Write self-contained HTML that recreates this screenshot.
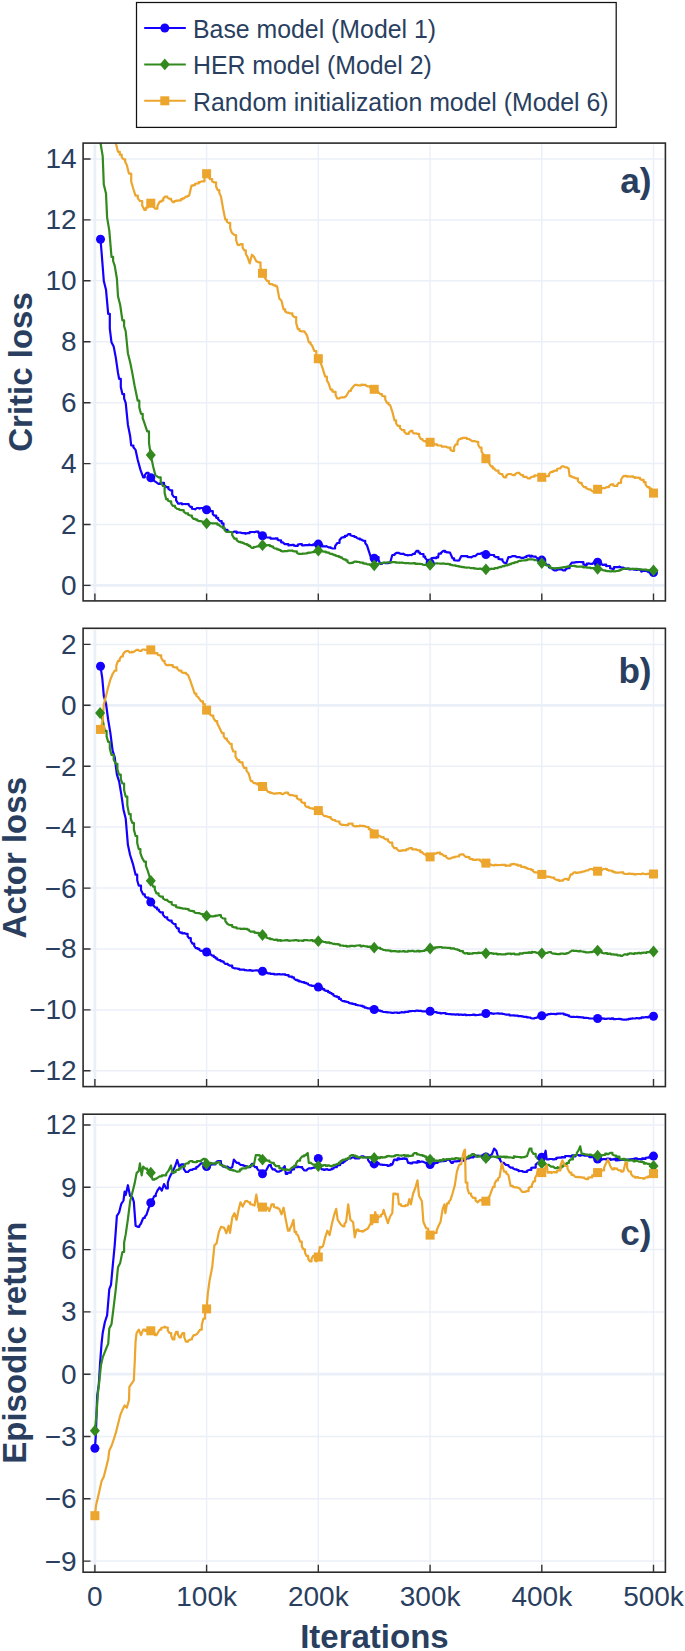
<!DOCTYPE html><html><head><meta charset="utf-8"><style>html,body{margin:0;padding:0;background:#fff;overflow:hidden;width:685px;height:1651px;}svg{display:block;}text{font-family:"Liberation Sans",sans-serif;}</style></head><body>
<svg width="685" height="1651" viewBox="0 0 685 1651">
<rect x="0" y="0" width="685" height="1651" fill="#fff"/>
<defs>
<clipPath id="c0"><rect x="83.1" y="143.1" width="582.3" height="457.8"/></clipPath>
<clipPath id="c1"><rect x="83.1" y="628.3" width="582.3" height="458.3"/></clipPath>
<clipPath id="c2"><rect x="83.1" y="1114.2" width="582.3" height="458.0"/></clipPath>
</defs>
<path d="M206.6 144.6V600.1M318.3 144.6V600.1M430.1 144.6V600.1M541.8 144.6V600.1M653.5 144.6V600.1M83.9 524.5H664.6M83.9 463.6H664.6M83.9 402.7H664.6M83.9 341.7H664.6M83.9 280.8H664.6M83.9 219.9H664.6M83.9 159.0H664.6" stroke="#ebf0f8" stroke-width="1.5" fill="none"/>
<path d="M94.9 144.6V600.1M83.9 585.4H664.6" stroke="#ebf0f8" stroke-width="2.8" fill="none"/>
<g clip-path="url(#c0)" fill="none" stroke-width="2.2" stroke-linejoin="round" stroke-linecap="round">
<polyline points="100.5,239.3 101.6,252.5 103.8,281.0 106.0,289.7 108.2,313.8 109.8,313.8 109.8,328.7 111.5,342.3 113.7,346.6 115.8,357.6 118.0,372.9 119.1,378.8 120.8,378.8 120.8,386.9 122.4,394.1 124.1,394.1 124.1,398.3 125.7,402.8 127.9,424.7 130.1,435.7 131.2,445.5 133.4,445.5 133.4,447.3 135.6,449.9 137.7,459.8 140.4,469.6 143.2,477.3 144.8,477.3 144.8,475.1 146.5,472.9 148.6,472.9 148.6,475.1 150.8,477.7 153.0,477.7 153.0,480.2 155.3,481.7 158.5,483.9 160.2,483.9 160.2,483.0 161.8,482.8 164.0,482.8 164.0,484.9 166.2,487.1 168.4,487.1 168.4,488.9 170.6,490.4 172.2,490.4 172.2,494.4 173.9,497.0 176.1,497.0 176.1,500.3 178.2,503.6 180.0,503.6 180.0,503.3 181.9,503.3 181.9,504.3 183.7,504.0 185.3,504.0 185.3,504.2 187.0,504.0 188.7,504.0 188.7,505.0 190.3,506.9 191.9,506.9 191.9,508.7 193.6,509.0 195.2,509.0 195.2,509.4 196.9,508.0 199.1,508.0 199.1,508.6 201.2,508.0 203.0,508.0 203.0,509.3 204.8,509.3 204.8,508.8 206.6,509.7 208.9,509.7 208.9,510.9 211.1,511.2 212.8,511.2 212.8,514.1 214.4,515.6 216.2,515.6 216.2,517.8 218.1,517.8 218.1,519.2 219.9,521.1 221.7,521.1 221.7,523.3 223.5,523.3 223.5,526.8 225.3,529.8 227.5,529.8 227.5,531.1 229.7,532.0 232.1,532.0 232.1,532.5 234.4,531.6 236.6,531.6 236.6,532.9 238.8,532.5 240.9,532.5 240.9,532.8 243.1,533.1 245.3,533.1 245.3,533.8 247.5,533.1 249.7,533.1 249.7,532.1 251.9,532.0 254.1,532.0 254.1,532.3 256.3,531.6 258.4,531.6 258.4,533.1 260.4,533.1 260.4,533.5 262.5,535.8 264.8,535.8 264.8,537.0 267.2,537.5 268.9,537.5 268.9,537.6 270.5,537.6 270.5,538.6 272.1,538.6 272.1,538.6 273.8,538.6 275.6,538.6 275.6,538.3 277.5,538.3 277.5,539.8 279.3,540.4 281.1,540.4 281.1,542.3 282.9,542.3 282.9,542.4 284.7,544.1 286.5,544.1 286.5,544.2 288.4,544.2 288.4,545.5 290.2,545.2 292.0,545.2 292.0,544.8 293.9,544.8 293.9,545.7 295.7,545.8 297.9,545.8 297.9,544.5 300.1,544.1 301.9,544.1 301.9,545.3 303.7,545.3 303.7,545.4 305.5,545.2 307.3,545.2 307.3,545.1 309.2,545.1 309.2,544.4 311.0,545.2 313.2,545.2 313.2,544.3 315.4,544.1 318.3,544.1 320.3,544.1 320.3,544.8 322.2,544.8 322.2,546.3 324.2,546.3 326.4,546.3 326.4,546.1 328.5,547.4 330.7,547.4 330.7,548.0 332.9,548.5 335.1,548.5 335.1,546.1 337.3,543.0 339.5,543.0 339.5,540.3 341.7,537.5 343.3,537.5 343.3,537.2 344.9,537.2 344.9,535.9 346.6,535.9 346.6,535.9 348.2,534.2 350.4,534.2 350.4,535.3 352.6,536.0 354.4,536.0 354.4,537.0 356.3,537.0 356.3,537.6 358.1,538.6 359.9,538.6 359.9,539.5 361.8,539.5 361.8,539.9 363.6,540.8 365.2,540.8 365.2,543.1 366.9,545.2 369.0,551.7 371.2,558.3 374.2,558.3 377.0,557.2 378.6,557.2 378.6,560.1 380.3,563.8 382.1,563.8 382.1,563.0 384.0,563.0 384.0,562.8 385.8,563.1 388.0,563.1 388.0,563.1 390.1,562.7 392.3,555.0 394.5,555.0 394.5,554.2 396.7,552.8 398.9,552.8 398.9,553.3 401.1,553.9 403.3,553.9 403.3,553.7 405.5,555.0 407.6,555.0 407.6,555.5 409.8,555.0 411.5,555.0 411.5,555.1 413.1,553.9 414.9,553.9 414.9,553.1 416.7,550.8 418.4,550.8 418.4,552.5 420.0,552.5 420.0,553.7 421.7,554.0 423.5,554.0 423.5,556.7 425.2,556.7 425.2,558.0 427.0,559.9 430.1,563.0 431.6,558.1 433.2,558.1 433.2,557.8 434.9,557.8 434.9,558.2 436.5,558.2 436.5,557.2 438.1,557.5 438.7,553.7 441.0,553.7 441.0,552.8 443.3,550.8 445.0,550.8 445.0,551.9 446.6,551.9 446.6,552.4 448.3,552.4 448.3,552.3 450.0,552.6 452.5,558.3 454.1,558.3 454.1,560.2 455.8,560.5 457.5,560.5 457.5,560.6 459.1,560.5 461.3,556.1 463.5,556.1 463.5,556.0 465.7,556.1 467.4,556.1 467.4,556.9 469.0,557.2 471.1,557.2 471.1,557.5 473.3,556.1 475.5,556.1 475.5,555.8 477.7,553.9 479.9,553.9 479.9,553.9 482.1,552.8 484.0,552.8 484.0,552.9 485.9,554.6 487.9,554.6 487.9,554.9 490.0,554.9 490.0,554.8 492.0,555.0 494.1,555.0 494.1,556.3 496.3,557.2 498.5,557.2 498.5,558.9 500.7,559.4 502.4,559.4 502.4,560.6 504.0,562.7 506.2,563.3 508.4,557.2 510.6,557.2 510.6,557.1 512.8,556.1 515.0,556.1 515.0,556.0 517.1,557.2 519.3,557.2 519.3,557.0 521.5,557.9 523.1,557.9 523.1,558.1 524.8,557.2 526.4,557.2 526.4,556.1 528.0,555.7 529.8,555.7 529.8,556.6 531.7,556.6 531.7,555.6 533.5,556.6 535.7,556.6 535.7,557.0 537.9,558.7 539.8,558.7 539.8,559.8 541.8,560.1 543.4,560.1 543.4,560.9 545.1,560.9 545.1,563.4 546.7,564.9 548.9,564.9 548.9,567.3 551.0,568.2 552.6,568.2 552.6,569.4 554.3,570.4 556.5,570.4 556.5,570.2 558.7,569.3 560.9,569.3 560.9,569.0 563.1,570.4 565.3,570.4 565.3,569.5 567.5,568.2 569.6,568.2 569.6,565.6 571.8,562.7 574.0,562.7 574.0,562.6 576.2,562.2 578.0,562.2 578.0,562.0 579.9,562.0 579.9,562.0 581.7,562.2 583.4,562.2 583.4,564.4 585.0,564.9 586.8,564.9 586.8,563.7 588.6,563.7 588.6,563.3 590.4,563.8 592.6,563.8 592.6,563.5 594.8,561.6 597.6,562.2 599.3,562.2 599.3,562.5 600.9,562.5 600.9,563.3 602.5,564.9 604.3,564.9 604.3,564.7 606.2,564.7 606.2,566.2 608.0,566.0 610.1,566.0 610.1,568.2 612.3,568.8 614.0,568.8 614.0,567.1 615.6,567.1 617.4,567.1 617.4,567.1 619.3,567.1 619.3,566.6 621.1,567.5 623.3,567.5 623.3,567.7 625.5,568.8 627.2,568.8 627.2,568.5 629.0,568.5 629.0,569.4 630.7,569.4 630.7,569.1 632.5,569.1 632.5,568.9 634.2,569.7 636.0,569.7 636.0,570.0 637.7,570.0 637.7,569.4 639.5,569.4 639.5,569.8 641.2,569.8 641.2,571.6 643.0,571.0 644.8,571.0 644.8,570.7 646.5,570.7 646.5,571.2 648.2,571.2 648.2,572.2 650.0,572.2 650.0,572.6 651.8,572.6 651.8,573.0 653.5,572.5" stroke="#1400ff"/>
<polyline points="99.5,60.0 100.5,143.0 102.7,156.1 103.8,184.6 106.0,193.4 107.1,217.4 109.3,230.6 111.5,256.9 113.1,256.9 113.1,261.0 114.7,265.6 116.9,278.8 118.0,296.3 120.2,305.0 122.4,320.4 124.1,320.4 124.1,326.1 125.7,331.3 127.9,353.2 130.1,362.0 132.3,372.9 134.5,385.3 137.7,400.7 139.3,400.7 139.3,407.4 141.0,413.8 142.7,413.8 142.7,418.1 144.3,422.6 147.2,431.3 149.0,431.3 149.0,443.1 150.8,455.0 153.1,466.3 155.3,475.1 158.5,477.3 160.7,477.3 160.7,481.6 162.9,486.0 164.6,486.0 164.6,492.7 166.2,499.2 167.8,499.2 167.8,500.5 169.5,501.4 171.2,501.4 171.2,503.4 172.8,505.8 175.0,505.8 175.0,507.1 177.2,509.0 179.3,509.0 179.3,509.8 181.5,510.1 183.7,510.1 183.7,511.7 185.9,513.4 188.1,513.4 188.1,514.7 190.3,515.6 191.9,515.6 191.9,517.0 193.6,518.9 195.4,518.9 195.4,519.6 197.3,519.6 197.3,520.5 199.1,521.1 201.0,521.1 201.0,521.5 202.9,521.5 202.9,522.5 204.7,522.5 204.7,523.0 206.6,523.3 208.5,523.3 208.5,523.0 210.3,523.0 210.3,523.0 212.2,523.3 213.8,523.3 213.8,523.3 215.5,523.3 217.3,523.3 217.3,524.7 219.2,524.7 219.2,525.4 221.0,526.6 222.8,526.6 222.8,528.2 224.6,528.2 224.6,530.2 226.4,532.0 228.2,532.0 228.2,531.7 230.0,532.0 232.2,532.0 232.2,535.1 234.4,538.6 236.6,538.6 236.6,540.2 238.8,541.9 240.4,541.9 240.4,542.4 242.1,542.4 242.1,542.8 243.7,542.8 243.7,543.4 245.3,544.1 247.0,544.1 247.0,544.9 248.6,544.9 248.6,545.9 250.2,545.9 250.2,546.7 251.9,547.8 253.7,547.8 253.7,547.0 255.6,547.0 255.6,547.0 257.4,546.3 259.1,546.3 259.1,546.0 260.8,546.0 260.8,545.7 262.5,545.2 264.4,545.2 264.4,545.0 266.4,545.0 266.4,545.5 268.3,545.2 269.9,545.2 269.9,546.2 271.6,546.2 271.6,546.6 273.2,546.6 273.2,547.6 274.9,548.5 276.8,548.5 276.8,549.3 278.8,549.3 278.8,550.0 280.7,550.0 280.7,550.9 282.6,551.3 284.2,551.3 284.2,551.1 285.9,551.1 285.9,551.1 287.5,551.1 287.5,550.9 289.1,550.6 290.9,550.6 290.9,550.7 292.8,550.7 292.8,551.1 294.6,551.3 296.8,551.3 296.8,552.8 299.0,553.9 300.6,553.9 300.6,554.0 302.2,554.0 302.2,553.7 303.9,553.7 303.9,553.7 305.5,553.5 307.1,553.5 307.1,552.9 308.8,552.9 308.8,552.7 310.5,552.7 310.5,552.7 312.1,552.2 314.2,552.2 314.2,551.6 316.3,551.6 316.3,550.9 318.3,550.6 320.3,550.6 320.3,551.0 322.2,551.0 322.2,551.5 324.2,551.7 325.8,551.7 325.8,552.4 327.4,552.4 327.4,552.7 329.1,552.7 329.1,553.3 330.7,553.9 332.4,553.9 332.4,554.5 334.0,554.5 334.0,555.2 335.6,555.2 335.6,555.6 337.3,556.1 338.9,556.1 338.9,556.9 340.6,556.9 340.6,557.7 342.2,557.7 342.2,558.3 343.9,559.4 345.7,559.4 345.7,560.4 347.5,560.4 347.5,562.0 349.3,563.1 351.1,563.1 351.1,562.9 353.0,562.9 353.0,562.2 354.8,561.6 356.4,561.6 356.4,561.8 358.1,561.8 358.1,562.0 359.8,562.0 359.8,562.4 361.4,562.7 363.0,562.7 363.0,563.4 364.6,563.4 364.6,563.7 366.3,563.7 366.3,564.0 367.9,564.4 370.0,564.4 370.0,564.9 372.1,564.9 372.1,564.8 374.2,565.3 377.0,563.8 378.6,563.8 378.6,563.5 380.3,563.5 380.3,563.5 382.0,563.5 382.0,563.0 383.6,562.7 385.3,562.7 385.3,562.6 387.1,562.6 387.1,562.4 388.8,562.4 388.8,562.4 390.6,562.4 390.6,562.6 392.3,562.2 394.1,562.2 394.1,562.0 395.8,562.0 395.8,562.6 397.6,562.6 397.6,562.7 399.3,562.7 399.3,562.8 401.1,562.7 402.8,562.7 402.8,563.0 404.6,563.0 404.6,563.1 406.3,563.1 406.3,563.1 408.1,563.1 408.1,563.2 409.8,563.3 411.6,563.3 411.6,563.4 413.3,563.4 413.3,563.2 415.1,563.2 415.1,563.8 416.8,563.8 416.8,563.7 418.6,563.8 420.4,563.8 420.4,564.0 422.3,564.0 422.3,564.5 424.1,564.9 426.1,564.9 426.1,564.9 428.1,564.9 428.1,564.8 430.1,564.9 432.1,564.9 432.1,564.3 434.1,564.3 434.1,563.9 436.1,563.3 437.9,563.3 437.9,563.5 439.6,563.5 439.6,563.6 441.4,563.6 441.4,563.6 443.1,563.6 443.1,563.4 444.9,563.8 446.6,563.8 446.6,563.9 448.4,563.9 448.4,564.2 450.1,564.2 450.1,564.8 451.9,564.8 451.9,565.2 453.6,565.3 455.4,565.3 455.4,565.8 457.1,565.8 457.1,566.2 458.9,566.2 458.9,566.6 460.6,566.6 460.6,566.6 462.4,567.1 464.2,567.1 464.2,567.5 465.9,567.5 465.9,567.6 467.7,567.6 467.7,567.5 469.4,567.5 469.4,567.7 471.2,568.2 472.8,568.2 472.8,568.1 474.4,568.1 474.4,568.7 476.1,568.7 476.1,568.5 477.7,568.8 479.3,568.8 479.3,568.7 481.0,568.7 481.0,569.1 482.6,569.1 482.6,569.0 484.3,569.0 484.3,568.9 485.9,569.3 487.7,569.3 487.7,569.0 489.5,569.0 489.5,569.1 491.2,569.1 491.2,568.7 493.0,568.8 494.6,568.8 494.6,568.2 496.3,568.2 496.3,568.1 498.0,568.1 498.0,567.5 499.6,567.1 501.2,567.1 501.2,566.5 502.9,566.5 502.9,566.2 504.6,566.2 504.6,565.5 506.2,565.3 507.8,565.3 507.8,564.7 509.5,564.7 509.5,564.2 511.1,564.2 511.1,563.5 512.8,563.1 514.4,563.1 514.4,562.3 516.0,562.3 516.0,562.2 517.7,562.2 517.7,561.5 519.3,560.9 521.0,560.9 521.0,560.5 522.6,560.5 524.2,560.5 524.2,560.3 525.9,560.3 525.9,560.1 527.5,560.1 527.5,559.4 529.1,559.4 530.8,559.4 530.8,559.3 532.4,559.3 532.4,559.5 534.1,559.5 534.1,560.1 535.7,560.1 537.7,560.1 537.7,560.9 539.8,560.9 539.8,562.2 541.8,563.1 543.4,563.1 543.4,564.0 545.1,564.0 545.1,564.7 546.7,565.5 548.5,565.5 548.5,566.2 550.3,566.2 550.3,567.6 552.1,568.2 553.9,568.2 553.9,568.4 555.8,568.4 555.8,568.2 557.6,568.2 559.2,568.2 559.2,567.8 560.9,567.8 560.9,567.7 562.6,567.7 562.6,567.3 564.2,567.1 565.8,567.1 565.8,566.9 567.5,566.9 567.5,566.4 569.1,566.4 569.1,566.4 570.7,566.0 572.5,566.0 572.5,565.9 574.2,565.9 574.2,566.1 576.0,566.1 576.0,566.6 577.7,566.6 577.7,566.7 579.5,566.6 581.3,566.6 581.3,566.7 583.0,566.7 583.0,567.3 584.8,567.3 584.8,567.1 586.5,567.1 586.5,567.7 588.3,567.7 590.2,567.7 590.2,568.1 592.0,568.1 592.0,568.1 593.9,568.1 593.9,568.2 595.8,568.2 595.8,568.3 597.6,568.8 599.6,568.8 599.6,569.6 601.6,569.6 601.6,569.6 603.6,570.4 605.2,570.4 605.2,570.8 606.9,570.8 606.9,571.2 608.6,571.2 608.6,571.2 610.2,571.4 611.8,571.4 611.8,571.1 613.5,571.1 613.5,571.4 615.1,571.4 615.1,571.4 616.7,571.0 618.4,571.0 618.4,570.6 620.0,570.6 620.0,569.9 621.6,569.9 621.6,569.3 623.3,568.8 625.0,568.8 625.0,568.7 626.8,568.7 626.8,568.6 628.5,568.6 628.5,568.9 630.3,568.9 630.3,568.8 632.0,568.8 633.8,568.8 633.8,568.8 635.7,568.8 635.7,568.9 637.5,568.9 637.5,569.3 639.3,569.3 639.3,569.3 641.2,569.3 641.2,569.5 643.0,569.7 644.8,569.7 644.8,569.7 646.5,569.7 646.5,570.2 648.2,570.2 648.2,570.3 650.0,570.3 650.0,569.9 651.8,569.9 651.8,570.1 653.5,570.4" stroke="#32891e"/>
<polyline points="100.5,40.0 102.4,40.0 102.4,55.6 104.2,55.6 104.2,70.6 106.1,70.6 106.1,84.4 108.0,100.0 110.0,100.0 110.0,111.9 112.0,125.0 113.9,125.0 113.9,134.5 115.8,143.0 118.0,151.8 119.8,151.8 119.8,154.7 121.7,154.7 121.7,157.1 123.5,159.4 125.2,159.4 125.2,161.9 126.8,164.9 129.0,173.7 131.2,173.7 131.2,181.5 133.4,189.0 135.5,195.6 137.8,195.6 137.8,198.4 140.0,201.0 142.2,201.0 142.2,205.5 144.3,209.8 145.9,209.8 145.9,207.7 147.5,207.7 147.5,206.4 149.1,206.4 149.1,204.7 150.8,203.2 153.0,203.2 153.0,206.3 155.3,208.7 157.4,208.7 157.4,205.9 159.6,201.7 161.4,201.7 161.4,200.6 163.3,200.6 163.3,198.4 165.1,196.6 167.3,196.6 167.3,197.6 169.5,198.8 171.2,198.8 171.2,200.1 172.8,202.1 174.4,202.1 174.4,201.0 176.1,201.0 176.1,200.6 177.7,200.6 177.7,200.8 179.3,200.4 181.0,200.4 181.0,199.2 182.6,199.2 182.6,198.3 184.2,198.3 184.2,198.1 185.9,196.6 187.6,196.6 187.6,196.1 189.2,195.5 191.4,185.7 193.2,185.7 193.2,185.1 195.1,185.1 195.1,183.9 196.9,183.5 198.7,183.5 198.7,182.1 200.5,182.1 200.5,181.8 202.3,181.3 204.5,181.3 204.5,177.0 206.6,173.7 208.3,173.7 208.3,176.4 210.0,179.1 212.2,179.1 212.2,181.4 214.4,182.4 216.1,182.4 216.1,186.5 217.7,190.1 219.3,190.1 219.3,192.9 221.0,196.6 223.1,208.7 225.3,219.6 226.9,219.6 226.9,221.8 228.6,222.9 230.2,222.9 230.2,228.3 231.9,232.8 234.4,235.0 236.1,235.0 236.1,240.2 237.7,244.8 239.3,244.8 239.3,245.1 240.9,244.2 242.6,244.2 242.6,247.6 244.2,250.3 245.8,250.3 245.8,254.0 247.5,256.9 249.7,263.4 251.9,254.7 254.1,256.9 256.3,261.2 258.5,262.3 260.5,262.3 260.5,267.6 262.5,273.3 264.8,273.3 264.8,277.8 267.2,281.0 268.9,281.0 268.9,283.2 270.5,284.2 272.1,284.2 272.1,284.3 273.8,285.3 275.5,285.3 275.5,286.2 277.1,286.4 279.3,298.5 281.5,300.7 283.6,309.4 285.2,309.4 285.2,311.4 286.9,312.7 288.5,312.7 288.5,313.0 290.2,313.4 292.4,313.4 292.4,315.3 294.6,317.1 296.2,317.1 296.2,323.1 297.9,329.1 299.5,329.1 299.5,330.8 301.2,331.3 304.4,331.3 307.1,335.7 308.8,342.3 310.5,342.3 310.5,343.9 312.1,345.5 314.3,351.0 316.3,351.0 316.3,355.3 318.3,358.7 320.2,358.7 320.2,362.3 322.0,366.3 325.2,376.6 326.9,376.6 326.9,380.4 328.5,383.1 330.7,389.7 332.4,389.7 332.4,391.4 334.0,391.9 335.6,391.9 335.6,395.1 337.3,398.5 339.5,398.5 339.5,398.0 341.7,397.4 343.9,397.4 343.9,397.4 346.1,396.3 349.3,390.8 351.0,390.8 351.0,389.5 352.6,387.5 354.8,384.9 357.0,384.9 357.0,385.1 359.2,385.3 361.4,385.3 361.4,384.7 363.6,384.9 365.8,384.9 365.8,385.4 367.9,386.4 370.0,386.4 370.0,387.6 372.1,387.6 372.1,387.9 374.2,389.3 376.2,389.3 376.2,391.5 378.3,391.5 378.3,392.2 380.3,394.1 382.0,394.1 382.0,395.8 383.6,396.3 385.2,396.3 385.2,399.3 386.9,402.8 388.5,402.8 388.5,404.5 390.1,405.0 392.3,411.6 394.5,420.4 396.1,420.4 396.1,423.4 397.8,425.8 400.0,425.8 400.0,428.0 402.2,430.2 404.4,430.2 404.4,432.1 406.6,433.9 408.8,433.9 408.8,432.6 410.9,430.9 412.5,430.9 412.5,432.3 414.2,433.5 415.9,433.5 415.9,433.4 417.5,433.9 419.1,433.9 419.1,436.0 420.8,439.0 422.5,439.0 422.5,440.1 424.1,441.2 426.1,441.2 426.1,442.2 428.1,442.2 428.1,442.1 430.1,442.3 431.7,442.3 431.7,442.4 433.4,442.4 433.4,444.1 435.0,444.4 437.2,444.4 437.2,445.3 439.4,445.5 441.6,445.5 441.6,446.6 443.8,446.6 446.0,446.6 446.0,446.7 448.2,447.7 450.4,447.7 450.4,449.7 452.5,451.0 454.1,451.0 454.1,447.1 455.8,444.4 457.5,444.4 457.5,441.9 459.1,439.0 460.9,439.0 460.9,438.3 462.8,438.3 462.8,437.9 464.6,437.9 466.8,437.9 466.8,439.0 469.0,439.0 472.2,441.2 474.4,441.2 474.4,440.9 476.6,441.8 478.2,441.8 478.2,444.8 479.9,447.7 481.5,447.7 481.5,451.5 483.2,454.3 485.9,458.7 487.6,458.7 487.6,460.9 489.2,460.9 489.2,463.4 490.9,466.3 492.7,466.3 492.7,468.3 494.5,468.3 494.5,469.1 496.3,470.7 498.5,470.7 498.5,472.7 500.7,474.0 502.4,474.0 502.4,475.0 504.0,477.3 506.2,477.3 506.2,475.5 508.4,474.0 510.6,474.0 510.6,474.1 512.8,475.1 515.0,475.1 515.0,474.2 517.1,472.9 519.3,472.9 519.3,473.4 521.5,475.1 523.1,475.1 523.1,476.6 524.8,476.9 526.4,476.9 526.4,477.0 528.0,478.4 530.2,478.4 530.2,477.8 532.4,476.6 534.6,476.6 534.6,475.4 536.8,475.5 538.5,475.5 538.5,475.8 540.1,475.8 540.1,477.1 541.8,477.3 543.4,477.3 543.4,476.5 545.1,476.5 545.1,476.1 546.7,476.2 548.9,476.2 548.9,474.3 551.0,471.8 553.2,471.8 553.2,471.1 555.4,470.7 557.0,470.7 557.0,469.0 558.7,468.5 560.4,468.5 560.4,468.1 562.0,466.3 563.6,466.3 563.6,466.4 565.3,467.4 567.0,467.4 567.0,467.3 568.6,468.5 569.6,476.2 571.2,476.2 571.2,476.5 572.9,477.3 574.5,477.3 574.5,478.0 576.2,478.4 577.9,478.4 577.9,480.9 579.5,482.8 581.7,482.8 581.7,484.4 583.9,487.1 586.1,487.1 586.1,488.0 588.3,489.3 590.5,489.3 590.5,489.7 592.6,491.5 594.8,491.5 594.8,490.3 597.0,489.3 598.8,489.3 598.8,489.3 600.7,489.3 600.7,488.9 602.5,488.2 604.7,488.2 604.7,488.2 606.9,487.1 609.0,487.1 609.0,486.1 611.2,484.3 613.4,484.3 613.4,485.7 615.6,486.0 617.2,486.0 617.2,484.7 618.9,482.8 621.1,482.8 621.1,479.5 623.3,476.2 624.9,476.2 624.9,475.9 626.6,475.9 626.6,476.6 628.2,476.6 628.2,476.2 629.9,476.6 631.5,476.6 631.5,476.3 633.1,476.3 633.1,477.1 634.8,477.1 634.8,477.9 636.4,477.7 638.2,477.7 638.2,477.9 640.1,477.9 640.1,479.3 641.9,479.9 643.7,479.9 643.7,482.2 645.6,482.2 645.6,484.7 647.4,487.1 649.4,487.1 649.4,488.6 651.5,488.6 651.5,491.7 653.5,493.1" stroke="#eca52d"/>
</g>
<g clip-path="url(#c0)">
<circle cx="100.5" cy="239.3" r="4.5" fill="#1400ff"/>
<circle cx="150.8" cy="477.7" r="4.5" fill="#1400ff"/>
<circle cx="206.6" cy="509.7" r="4.5" fill="#1400ff"/>
<circle cx="262.5" cy="535.8" r="4.5" fill="#1400ff"/>
<circle cx="318.3" cy="544.1" r="4.5" fill="#1400ff"/>
<circle cx="374.2" cy="558.3" r="4.5" fill="#1400ff"/>
<circle cx="430.1" cy="563.0" r="4.5" fill="#1400ff"/>
<circle cx="485.9" cy="554.6" r="4.5" fill="#1400ff"/>
<circle cx="541.8" cy="560.1" r="4.5" fill="#1400ff"/>
<circle cx="597.6" cy="562.2" r="4.5" fill="#1400ff"/>
<circle cx="653.5" cy="572.5" r="4.5" fill="#1400ff"/>
<path d="M150.8 449.1L155.8 455.0L150.8 460.9L145.8 455.0Z" fill="#32891e"/>
<path d="M206.6 517.4L211.6 523.3L206.6 529.2L201.6 523.3Z" fill="#32891e"/>
<path d="M262.5 539.3L267.5 545.2L262.5 551.1L257.5 545.2Z" fill="#32891e"/>
<path d="M318.3 544.7L323.3 550.6L318.3 556.5L313.3 550.6Z" fill="#32891e"/>
<path d="M374.2 559.4L379.2 565.3L374.2 571.2L369.2 565.3Z" fill="#32891e"/>
<path d="M430.1 559.0L435.1 564.9L430.1 570.8L425.1 564.9Z" fill="#32891e"/>
<path d="M485.9 563.4L490.9 569.3L485.9 575.2L480.9 569.3Z" fill="#32891e"/>
<path d="M541.8 557.2L546.8 563.1L541.8 569.0L536.8 563.1Z" fill="#32891e"/>
<path d="M597.6 562.9L602.6 568.8L597.6 574.7L592.6 568.8Z" fill="#32891e"/>
<path d="M653.5 564.5L658.5 570.4L653.5 576.3L648.5 570.4Z" fill="#32891e"/>
<rect x="146.3" y="198.7" width="9" height="9" fill="#eca52d"/>
<rect x="202.1" y="169.2" width="9" height="9" fill="#eca52d"/>
<rect x="258.0" y="268.8" width="9" height="9" fill="#eca52d"/>
<rect x="313.8" y="354.2" width="9" height="9" fill="#eca52d"/>
<rect x="369.7" y="384.8" width="9" height="9" fill="#eca52d"/>
<rect x="425.6" y="437.8" width="9" height="9" fill="#eca52d"/>
<rect x="481.4" y="454.2" width="9" height="9" fill="#eca52d"/>
<rect x="537.3" y="472.8" width="9" height="9" fill="#eca52d"/>
<rect x="593.1" y="484.8" width="9" height="9" fill="#eca52d"/>
<rect x="649.0" y="488.6" width="9" height="9" fill="#eca52d"/>
</g>
<rect x="83.1" y="143.1" width="582.3" height="457.8" fill="none" stroke="#2b2b2b" stroke-width="1.6"/>
<path d="M83.1 585.4H90.5M83.1 524.5H90.5M83.1 463.6H90.5M83.1 402.7H90.5M83.1 341.7H90.5M83.1 280.8H90.5M83.1 219.9H90.5M83.1 159.0H90.5M94.9 600.9V593.4M206.6 600.9V593.4M318.3 600.9V593.4M430.1 600.9V593.4M541.8 600.9V593.4M653.5 600.9V593.4" stroke="#333" stroke-width="1.4" fill="none"/>
<text x="76.7" y="594.8" font-size="28" fill="#2a3f5f" text-anchor="end">0</text>
<text x="76.7" y="533.9" font-size="28" fill="#2a3f5f" text-anchor="end">2</text>
<text x="76.7" y="473.0" font-size="28" fill="#2a3f5f" text-anchor="end">4</text>
<text x="76.7" y="412.1" font-size="28" fill="#2a3f5f" text-anchor="end">6</text>
<text x="76.7" y="351.1" font-size="28" fill="#2a3f5f" text-anchor="end">8</text>
<text x="76.7" y="290.2" font-size="28" fill="#2a3f5f" text-anchor="end">10</text>
<text x="76.7" y="229.3" font-size="28" fill="#2a3f5f" text-anchor="end">12</text>
<text x="76.7" y="168.4" font-size="28" fill="#2a3f5f" text-anchor="end">14</text>
<text x="651.6" y="192.6" font-size="35.2" font-weight="bold" fill="#2a3f5f" text-anchor="end">a)</text>
<path d="M206.6 629.8V1085.8M318.3 629.8V1085.8M430.1 629.8V1085.8M541.8 629.8V1085.8M653.5 629.8V1085.8M83.9 644.4H664.6M83.9 766.2H664.6M83.9 827.1H664.6M83.9 888.1H664.6M83.9 949.0H664.6M83.9 1009.9H664.6M83.9 1070.8H664.6" stroke="#ebf0f8" stroke-width="1.5" fill="none"/>
<path d="M94.9 629.8V1085.8M83.9 705.3H664.6" stroke="#ebf0f8" stroke-width="2.8" fill="none"/>
<g clip-path="url(#c1)" fill="none" stroke-width="2.2" stroke-linejoin="round" stroke-linecap="round">
<polyline points="100.5,666.3 102.3,678.4 103.8,695.9 106.0,703.5 108.2,720.0 110.4,733.1 112.6,750.6 114.7,757.2 116.9,774.7 119.1,781.3 121.3,794.4 123.5,809.7 125.7,818.5 127.9,844.8 130.1,855.0 132.9,863.8 135.6,874.7 137.2,874.7 137.2,880.3 138.8,885.7 141.0,885.7 141.0,890.0 143.2,894.4 144.8,894.4 144.8,896.1 146.5,897.7 148.6,897.7 148.6,899.7 150.8,902.1 153.0,902.1 153.0,905.1 155.3,907.6 157.1,907.6 157.1,909.5 158.9,909.5 158.9,910.9 160.7,912.4 162.9,912.4 162.9,914.6 165.1,917.4 167.3,917.4 167.3,919.1 169.5,920.7 171.7,920.7 171.7,922.2 173.9,924.0 175.6,924.0 175.6,926.0 177.2,928.4 178.8,928.4 178.8,930.9 180.4,932.7 182.2,932.7 182.2,933.5 184.1,933.5 184.1,933.1 185.9,933.8 187.6,933.8 187.6,936.3 189.2,938.2 190.8,938.2 190.8,941.0 192.5,943.7 194.2,943.7 194.2,945.8 195.8,948.1 197.6,948.1 197.6,948.9 199.4,948.9 199.4,950.1 201.2,950.9 203.0,950.9 203.0,951.2 204.8,951.2 204.8,951.8 206.6,952.0 208.5,952.0 208.5,953.4 210.3,953.4 210.3,954.2 212.2,955.7 213.8,955.7 213.8,957.0 215.5,957.0 215.5,958.3 217.2,958.3 217.2,959.4 218.8,960.1 220.4,960.1 220.4,961.1 222.1,961.1 222.1,961.6 223.7,961.6 223.7,962.5 225.3,963.8 227.7,963.8 227.7,964.5 230.0,965.7 232.2,965.7 232.2,967.4 234.4,968.3 236.0,968.3 236.0,968.5 237.7,968.5 237.7,968.8 239.3,968.8 239.3,969.6 240.9,969.6 242.6,969.6 242.6,969.7 244.2,969.7 244.2,970.1 245.8,970.1 245.8,970.2 247.5,970.5 249.2,970.5 249.2,970.2 250.8,970.2 250.8,970.6 252.4,970.6 252.4,970.8 254.1,970.5 255.8,970.5 255.8,970.4 257.5,970.4 257.5,970.6 259.1,970.6 259.1,970.9 260.8,970.9 260.8,970.7 262.5,971.2 264.4,971.2 264.4,971.9 266.4,971.9 266.4,972.9 268.3,973.4 270.2,973.4 270.2,973.8 272.1,973.8 272.1,973.9 274.1,973.9 274.1,974.4 276.0,974.4 277.9,974.4 277.9,974.1 279.8,974.1 279.8,974.5 281.7,974.5 281.7,974.3 283.6,974.4 285.2,974.4 285.2,975.0 286.9,975.0 286.9,975.2 288.6,975.2 288.6,976.3 290.2,976.6 292.0,976.6 292.0,977.4 293.9,977.4 293.9,978.5 295.7,979.9 297.4,979.9 297.4,980.7 299.0,980.7 299.0,981.4 300.6,981.4 300.6,981.5 302.3,982.1 304.2,982.1 304.2,982.9 306.1,982.9 306.1,983.5 308.0,983.5 308.0,984.4 309.9,985.4 311.6,985.4 311.6,985.8 313.3,985.8 313.3,985.8 315.0,985.8 315.0,986.1 316.7,986.1 316.7,986.7 318.3,987.1 320.3,987.1 320.3,987.8 322.3,987.8 322.3,989.1 324.3,989.1 324.3,990.2 326.3,990.9 328.1,990.9 328.1,992.2 329.8,992.2 329.8,993.0 331.6,993.0 331.6,994.0 333.3,994.0 333.3,995.2 335.1,996.3 337.0,996.3 337.0,997.1 339.0,997.1 339.0,998.9 340.9,998.9 340.9,999.8 342.8,1001.2 344.7,1001.2 344.7,1001.6 346.6,1001.6 346.6,1002.0 348.5,1002.0 348.5,1002.8 350.4,1003.4 352.2,1003.4 352.2,1003.9 353.9,1003.9 353.9,1004.2 355.7,1004.2 355.7,1005.0 357.4,1005.0 357.4,1005.2 359.2,1005.5 361.0,1005.5 361.0,1005.9 362.7,1005.9 362.7,1006.7 364.5,1006.7 364.5,1007.6 366.2,1007.6 366.2,1007.8 368.0,1008.4 370.1,1008.4 370.1,1008.8 372.1,1008.8 372.1,1008.8 374.2,1009.5 377.0,1010.2 378.6,1010.2 378.6,1010.6 380.3,1010.6 380.3,1011.1 382.0,1011.1 382.0,1011.5 383.6,1012.0 385.3,1012.0 385.3,1012.1 387.1,1012.1 387.1,1012.4 388.8,1012.4 388.8,1012.5 390.6,1012.5 390.6,1012.6 392.3,1012.8 394.1,1012.8 394.1,1012.5 396.0,1012.5 396.0,1012.6 397.8,1012.6 397.8,1013.0 399.6,1013.0 399.6,1012.5 401.5,1012.5 401.5,1012.1 403.3,1012.4 404.9,1012.4 404.9,1011.8 406.6,1011.8 406.6,1012.0 408.2,1012.0 408.2,1011.4 409.9,1011.4 409.9,1011.2 411.5,1011.2 411.5,1011.0 413.1,1011.0 413.1,1011.0 414.8,1011.0 414.8,1011.2 416.4,1010.6 418.0,1010.6 418.0,1010.8 419.7,1010.8 419.7,1010.9 421.4,1010.9 421.4,1011.1 423.0,1011.3 424.8,1011.3 424.8,1011.3 426.5,1011.3 426.5,1011.3 428.3,1011.3 428.3,1011.5 430.1,1011.3 431.7,1011.3 431.7,1011.9 433.4,1011.9 433.4,1012.1 435.0,1012.1 435.0,1012.1 436.7,1012.1 436.7,1012.6 438.3,1012.8 440.1,1012.8 440.1,1013.3 442.0,1013.3 442.0,1013.0 443.8,1013.0 443.8,1013.2 445.6,1013.2 445.6,1013.8 447.5,1013.8 447.5,1014.0 449.3,1014.1 451.1,1014.1 451.1,1014.3 452.9,1014.3 452.9,1014.3 454.8,1014.3 454.8,1014.6 456.6,1014.6 456.6,1014.4 458.4,1014.4 458.4,1014.8 460.2,1014.6 462.0,1014.6 462.0,1015.0 463.9,1015.0 463.9,1014.7 465.7,1014.7 465.7,1015.1 467.5,1015.1 467.5,1015.0 469.4,1015.0 469.4,1015.2 471.2,1015.0 472.9,1015.0 472.9,1014.6 474.7,1014.6 474.7,1015.2 476.4,1015.2 476.4,1015.0 478.2,1015.0 478.2,1015.0 479.9,1014.6 481.9,1014.6 481.9,1014.6 483.9,1014.6 483.9,1013.7 485.9,1013.5 487.8,1013.5 487.8,1013.6 489.6,1013.6 489.6,1013.2 491.5,1013.2 491.5,1013.6 493.3,1013.6 493.3,1013.8 495.2,1013.5 497.0,1013.5 497.0,1013.4 498.9,1013.4 498.9,1013.7 500.7,1013.7 500.7,1013.7 502.5,1013.7 502.5,1014.0 504.4,1014.0 504.4,1014.2 506.2,1014.6 507.8,1014.6 507.8,1014.5 509.5,1014.5 509.5,1015.4 511.1,1015.4 511.1,1015.5 512.7,1015.5 512.7,1015.3 514.4,1015.3 514.4,1015.7 516.0,1015.7 517.8,1015.7 517.8,1016.1 519.5,1016.1 519.5,1016.2 521.3,1016.2 521.3,1016.3 523.0,1016.3 523.0,1016.7 524.8,1016.8 526.7,1016.8 526.7,1017.3 528.6,1017.3 528.6,1017.5 530.5,1017.5 530.5,1018.0 532.4,1018.5 534.3,1018.5 534.3,1018.0 536.2,1018.0 536.2,1017.5 538.0,1017.5 538.0,1016.6 539.9,1016.6 539.9,1016.3 541.8,1015.7 543.5,1015.7 543.5,1015.6 545.3,1015.6 545.3,1015.2 547.0,1015.2 547.0,1014.6 548.8,1014.1 550.4,1014.1 550.4,1013.8 552.1,1013.8 552.1,1014.0 553.8,1014.0 553.8,1013.8 555.4,1014.1 557.0,1014.1 557.0,1013.6 558.7,1013.6 558.7,1013.6 560.4,1013.6 560.4,1013.6 562.0,1013.5 563.7,1013.5 563.7,1014.4 565.5,1014.4 565.5,1014.9 567.2,1014.9 567.2,1015.3 569.0,1015.3 569.0,1016.3 570.7,1016.8 572.5,1016.8 572.5,1016.9 574.4,1016.9 574.4,1017.0 576.2,1017.0 576.2,1016.9 578.0,1016.9 578.0,1017.2 579.9,1017.2 579.9,1017.2 581.7,1017.4 583.4,1017.4 583.4,1017.8 585.2,1017.8 585.2,1017.8 586.9,1017.8 586.9,1018.0 588.7,1018.0 588.7,1018.3 590.4,1018.5 592.2,1018.5 592.2,1018.5 594.0,1018.5 594.0,1018.7 595.8,1018.7 595.8,1018.7 597.6,1018.5 599.4,1018.5 599.4,1018.7 601.1,1018.7 601.1,1018.4 602.8,1018.4 602.8,1018.7 604.5,1018.7 604.5,1018.9 606.3,1018.9 606.3,1018.9 608.0,1018.5 609.7,1018.5 609.7,1018.8 611.5,1018.8 611.5,1018.4 613.2,1018.4 613.2,1019.1 615.0,1019.1 615.0,1019.2 616.7,1019.0 618.4,1019.0 618.4,1018.8 620.0,1018.8 620.0,1019.2 621.6,1019.2 621.6,1019.3 623.3,1019.6 625.1,1019.6 625.1,1019.6 626.9,1019.6 626.9,1019.3 628.8,1019.3 628.8,1018.9 630.6,1018.9 630.6,1018.6 632.4,1018.6 632.4,1018.4 634.2,1018.5 636.0,1018.5 636.0,1018.0 637.9,1018.0 637.9,1018.3 639.7,1018.3 639.7,1018.2 641.5,1018.2 641.5,1017.4 643.4,1017.4 643.4,1017.6 645.2,1017.2 646.9,1017.2 646.9,1017.4 648.5,1017.4 648.5,1016.6 650.2,1016.6 650.2,1016.7 651.8,1016.7 651.8,1016.4 653.5,1016.3" stroke="#1400ff"/>
<polyline points="100.1,713.0 102.7,720.0 104.9,730.9 106.6,730.9 106.6,736.4 108.2,741.9 109.8,741.9 109.8,748.5 111.5,755.0 113.7,755.0 113.7,759.8 115.8,763.8 117.4,763.8 117.4,769.2 119.1,774.7 120.8,774.7 120.8,779.1 122.4,783.5 124.1,783.5 124.1,790.1 125.7,796.6 127.3,796.6 127.3,805.0 129.0,814.1 130.7,814.1 130.7,818.5 132.3,822.9 133.9,822.9 133.9,829.6 135.6,836.0 137.2,836.0 137.2,842.9 138.8,849.2 140.4,849.2 140.4,853.1 142.1,857.9 144.3,861.6 145.9,861.6 145.9,865.8 147.6,870.3 150.8,880.8 153.1,886.7 154.8,886.7 154.8,889.6 156.4,893.3 158.6,893.3 158.6,895.3 160.7,896.6 162.9,896.6 162.9,898.4 165.1,899.9 167.3,899.9 167.3,900.5 169.5,902.1 171.7,902.1 171.7,904.2 173.9,905.4 176.1,905.4 176.1,907.0 178.2,907.6 180.0,907.6 180.0,908.1 181.9,908.1 181.9,908.4 183.7,908.6 185.3,908.6 185.3,908.8 187.0,908.8 187.0,909.2 188.7,909.2 188.7,910.3 190.3,910.8 192.1,910.8 192.1,911.1 194.0,911.1 194.0,912.0 195.8,913.0 197.6,913.0 197.6,913.1 199.4,913.1 199.4,913.3 201.2,914.1 203.0,914.1 203.0,914.7 204.8,914.7 204.8,915.2 206.6,915.9 208.5,915.9 208.5,916.4 210.3,916.4 210.3,916.2 212.2,916.3 213.8,916.3 213.8,916.2 215.5,916.2 215.5,915.7 217.2,915.7 217.2,915.6 218.8,915.2 220.9,915.2 220.9,916.8 223.1,918.5 225.3,918.5 225.3,921.0 227.5,924.0 230.0,925.2 232.2,925.2 232.2,926.8 234.4,927.4 236.6,927.4 236.6,928.4 238.8,928.5 240.4,928.5 240.4,928.9 242.1,928.9 242.1,928.9 243.7,928.9 243.7,928.6 245.3,928.9 247.1,928.9 247.1,929.6 249.0,929.6 249.0,930.6 250.8,931.7 252.6,931.7 252.6,931.6 254.5,931.6 254.5,932.7 256.3,932.8 258.4,932.8 258.4,933.4 260.4,933.4 260.4,934.6 262.5,935.0 264.4,935.0 264.4,936.0 266.4,936.0 266.4,937.7 268.3,938.3 270.1,938.3 270.1,939.2 272.0,939.2 272.0,938.9 273.8,939.9 275.6,939.9 275.6,939.7 277.3,939.7 277.3,940.6 279.1,940.6 279.1,940.2 280.8,940.2 280.8,940.9 282.6,940.5 284.3,940.5 284.3,940.4 286.1,940.4 286.1,940.1 287.8,940.1 287.8,940.6 289.6,940.6 289.6,940.8 291.3,940.5 293.1,940.5 293.1,940.3 294.8,940.3 294.8,940.1 296.6,940.1 296.6,940.3 298.3,940.3 298.3,941.0 300.1,940.5 301.8,940.5 301.8,940.8 303.6,940.8 303.6,940.1 305.3,940.1 305.3,940.2 307.1,940.2 307.1,940.1 308.8,940.5 310.7,940.5 310.7,940.2 312.6,940.2 312.6,941.1 314.5,941.1 314.5,940.6 316.4,940.6 316.4,941.1 318.3,941.2 320.3,941.2 320.3,941.4 322.2,941.4 322.2,941.4 324.2,942.0 325.9,942.0 325.9,942.6 327.7,942.6 327.7,942.4 329.4,942.4 329.4,943.2 331.2,943.2 331.2,943.1 332.9,943.8 334.7,943.8 334.7,944.1 336.4,944.1 336.4,944.2 338.2,944.2 338.2,944.6 339.9,944.6 339.9,945.6 341.7,945.5 343.3,945.5 343.3,946.0 344.9,946.0 344.9,945.8 346.6,945.8 346.6,946.6 348.2,946.4 350.0,946.4 350.0,945.9 351.7,945.9 351.7,945.9 353.5,945.9 353.5,946.2 355.2,946.2 355.2,945.8 357.0,945.5 358.8,945.5 358.8,945.3 360.5,945.3 360.5,946.3 362.3,946.3 362.3,945.8 364.0,945.8 364.0,946.0 365.8,946.4 367.5,946.4 367.5,946.9 369.2,946.9 369.2,946.7 370.8,946.7 370.8,947.0 372.5,947.0 372.5,947.0 374.2,947.7 377.0,947.8 378.6,947.8 378.6,947.9 380.3,947.9 380.3,949.0 382.0,949.0 382.0,949.2 383.6,950.0 385.3,950.0 385.3,950.3 387.1,950.3 387.1,950.3 388.8,950.3 388.8,950.6 390.6,950.6 390.6,951.3 392.3,951.1 394.1,951.1 394.1,951.2 395.8,951.2 395.8,951.3 397.6,951.3 397.6,951.7 399.3,951.7 399.3,951.1 401.1,951.5 402.8,951.5 402.8,951.1 404.6,951.1 404.6,951.7 406.3,951.7 406.3,951.6 408.1,951.6 408.1,950.9 409.8,951.1 411.6,951.1 411.6,950.8 413.5,950.8 413.5,951.3 415.3,951.3 415.3,951.5 417.1,951.5 417.1,950.8 419.0,950.8 419.0,951.6 420.8,951.1 422.7,951.1 422.7,951.0 424.5,951.0 424.5,950.2 426.4,950.2 426.4,949.5 428.2,949.5 428.2,948.6 430.1,948.5 431.7,948.5 431.7,947.8 433.4,947.8 433.4,948.4 435.0,948.4 435.0,947.4 436.7,947.4 436.7,947.6 438.3,947.1 440.1,947.1 440.1,947.0 441.8,947.0 441.8,947.7 443.6,947.7 443.6,947.6 445.3,947.6 445.3,947.5 447.1,947.8 448.8,947.8 448.8,947.8 450.6,947.8 450.6,948.6 452.3,948.6 452.3,948.3 454.1,948.3 454.1,948.7 455.8,949.3 457.6,949.3 457.6,950.0 459.5,950.0 459.5,950.9 461.3,951.1 463.0,951.1 463.0,952.3 464.6,953.3 466.2,953.3 466.2,953.2 467.9,953.2 467.9,953.9 469.6,953.9 469.6,953.3 471.2,953.7 472.9,953.7 472.9,953.0 474.7,953.0 474.7,953.1 476.4,953.1 476.4,953.1 478.2,953.1 478.2,952.5 479.9,952.8 481.9,952.8 481.9,952.6 483.9,952.6 483.9,953.0 485.9,953.3 487.8,953.3 487.8,953.5 489.6,953.5 489.6,953.1 491.5,953.1 491.5,953.4 493.3,953.4 493.3,954.0 495.2,953.7 497.0,953.7 497.0,954.3 498.7,954.3 498.7,954.1 500.5,954.1 500.5,954.3 502.2,954.3 502.2,954.3 504.0,954.4 505.8,954.4 505.8,953.9 507.5,953.9 507.5,953.7 509.3,953.7 509.3,953.5 511.0,953.5 511.0,954.3 512.8,953.7 514.4,953.7 514.4,954.3 516.0,954.4 517.8,954.4 517.8,954.5 519.5,954.5 519.5,953.3 521.3,953.3 521.3,953.6 523.0,953.6 523.0,953.1 524.8,952.8 526.5,952.8 526.5,952.9 528.3,952.9 528.3,952.4 530.0,952.4 530.0,952.9 531.8,952.9 531.8,951.9 533.5,952.2 535.2,952.2 535.2,952.5 536.8,952.5 536.8,952.9 538.5,952.9 538.5,953.3 540.1,953.3 540.1,953.3 541.8,953.3 543.5,953.3 543.5,953.2 545.3,953.2 545.3,953.0 547.0,953.0 547.0,952.9 548.8,952.2 551.0,952.2 551.0,952.8 553.2,953.7 555.0,953.7 555.0,953.9 556.7,953.9 556.7,954.1 558.5,954.1 558.5,954.1 560.2,954.1 560.2,953.6 562.0,953.7 563.6,953.7 563.6,953.8 565.3,953.8 565.3,953.6 567.0,953.6 567.0,953.1 568.6,952.8 571.8,950.6 573.4,950.6 573.4,950.9 575.1,950.9 575.1,950.8 576.8,950.8 576.8,951.1 578.4,951.1 578.4,951.3 580.1,951.3 580.1,950.9 581.7,951.5 583.4,951.5 583.4,951.8 585.2,951.8 585.2,952.3 586.9,952.3 586.9,952.3 588.7,952.3 588.7,952.3 590.4,952.2 592.2,952.2 592.2,951.7 594.0,951.7 594.0,951.6 595.8,951.6 595.8,951.1 597.6,950.6 599.6,950.6 599.6,951.4 601.6,951.4 601.6,952.7 603.6,953.3 605.3,953.3 605.3,953.1 607.1,953.1 607.1,954.0 608.8,954.0 608.8,953.5 610.6,953.5 610.6,954.3 612.3,954.4 613.9,954.4 613.9,954.6 615.6,954.6 615.6,954.6 617.2,954.6 617.2,955.3 618.9,955.3 618.9,955.4 620.6,955.4 620.6,955.8 622.2,955.9 624.4,954.4 626.1,954.4 626.1,954.7 627.8,954.7 627.8,953.8 629.5,953.8 629.5,953.4 631.3,953.4 631.3,953.6 633.0,953.6 633.0,953.8 634.7,953.8 634.7,953.2 636.4,953.3 638.1,953.3 638.1,952.8 639.8,952.8 639.8,953.3 641.5,953.3 641.5,952.9 643.2,952.9 643.2,952.5 645.0,952.5 645.0,952.8 646.7,952.8 646.7,952.0 648.4,952.0 648.4,952.2 650.1,952.2 650.1,951.6 651.8,951.6 651.8,951.6 653.5,951.5" stroke="#32891e"/>
<polyline points="100.5,729.4 102.7,720.0 103.8,704.6 106.0,695.9 108.2,687.1 110.4,679.5 112.6,674.0 114.7,670.7 116.3,670.7 116.3,665.7 118.0,660.8 119.7,660.8 119.7,658.8 121.3,656.5 122.9,656.5 122.9,654.5 124.6,652.1 126.8,651.0 128.4,651.0 128.4,651.3 130.1,652.5 131.8,652.5 131.8,651.7 133.4,652.1 136.6,649.9 138.2,649.9 138.2,650.3 139.9,651.0 141.6,651.0 141.6,650.0 143.2,649.5 145.1,649.5 145.1,650.0 147.0,650.0 147.0,649.9 148.9,649.9 148.9,649.9 150.8,649.9 153.0,649.9 153.0,651.6 155.3,653.2 157.4,653.2 157.4,654.5 159.6,655.4 161.2,655.4 161.2,657.7 162.9,660.8 164.6,660.8 164.6,662.9 166.2,665.2 168.4,665.2 168.4,664.8 170.6,665.2 172.8,665.2 172.8,666.8 175.0,667.4 177.2,667.4 177.2,668.5 179.3,670.7 181.5,670.7 181.5,672.2 183.7,672.9 185.9,672.9 185.9,673.5 188.1,675.1 190.3,680.6 192.5,687.1 194.7,693.7 196.3,693.7 196.3,695.6 198.0,697.0 201.2,701.4 203.0,701.4 203.0,704.1 204.8,704.1 204.8,707.1 206.6,710.1 208.9,710.1 208.9,713.3 211.1,715.6 213.3,715.6 213.3,717.8 215.5,721.1 217.2,721.1 217.2,723.3 218.8,726.5 222.0,733.1 223.7,733.1 223.7,736.3 225.3,738.6 226.9,738.6 226.9,740.3 228.6,741.9 230.0,743.8 231.7,743.8 231.7,747.2 233.3,751.5 235.5,751.5 235.5,756.4 237.7,760.2 239.3,760.2 239.3,761.8 240.9,762.4 242.6,762.4 242.6,764.7 244.2,767.9 246.4,767.9 246.4,770.6 248.6,773.4 250.8,781.0 252.4,781.0 252.4,781.7 254.1,783.2 255.8,783.2 255.8,783.6 257.5,783.6 257.5,784.7 259.1,784.7 259.1,784.8 260.8,784.8 260.8,786.1 262.5,786.5 264.4,786.5 264.4,787.8 266.4,787.8 266.4,789.8 268.3,792.0 270.1,792.0 270.1,792.9 272.0,792.9 272.0,793.0 273.8,793.7 275.6,793.7 275.6,793.4 277.5,793.4 277.5,793.4 279.3,793.1 281.0,793.1 281.0,793.6 282.6,794.2 285.8,792.6 288.0,792.6 288.0,793.8 290.2,795.2 292.4,795.2 292.4,795.0 294.6,795.9 296.8,795.9 296.8,798.0 299.0,799.6 301.2,799.6 301.2,801.8 303.4,802.9 305.0,802.9 305.0,805.5 306.6,806.9 308.8,806.9 308.8,807.8 311.0,808.4 312.8,808.4 312.8,808.8 314.7,808.8 314.7,809.3 316.5,809.3 316.5,810.3 318.3,810.6 320.3,810.6 320.3,812.6 322.2,812.6 322.2,813.8 324.2,816.1 326.4,816.1 326.4,816.3 328.5,817.1 330.7,817.1 330.7,818.4 332.9,820.0 335.1,820.0 335.1,820.8 337.3,821.5 339.5,821.5 339.5,823.5 341.7,824.8 343.9,824.8 343.9,825.0 346.1,825.2 348.2,825.2 348.2,823.9 350.4,823.7 352.6,823.7 352.6,825.4 354.8,826.3 356.4,826.3 356.4,826.1 358.1,826.1 358.1,826.1 359.8,826.1 359.8,825.7 361.4,825.9 363.2,825.9 363.2,826.2 365.1,826.2 365.1,826.5 366.9,827.0 368.7,827.0 368.7,829.1 370.6,829.1 370.6,830.0 372.4,830.0 372.4,832.3 374.2,834.0 376.0,834.0 376.0,834.4 377.8,834.4 377.8,835.8 379.6,835.8 379.6,835.8 381.4,837.2 383.6,837.2 383.6,838.0 385.8,839.4 388.0,839.4 388.0,840.9 390.1,842.7 392.3,842.7 392.3,845.6 394.5,848.2 396.7,848.2 396.7,849.0 398.9,850.8 400.7,850.8 400.7,850.6 402.6,850.6 402.6,850.2 404.4,850.4 406.2,850.4 406.2,849.4 408.0,849.4 408.0,848.9 409.8,848.2 412.0,848.2 412.0,849.3 414.2,849.3 416.4,849.3 416.4,849.8 418.6,850.4 420.4,850.4 420.4,852.2 422.3,852.2 422.3,852.6 424.1,854.3 426.1,854.3 426.1,855.7 428.1,855.7 428.1,855.9 430.1,856.9 432.0,856.9 432.0,854.9 433.9,853.6 436.1,853.6 436.1,853.4 438.3,852.6 440.1,852.6 440.1,854.2 442.0,854.2 442.0,854.1 443.8,855.8 446.0,855.8 446.0,857.0 448.2,858.7 450.4,858.7 450.4,858.4 452.5,857.4 454.7,857.4 454.7,856.8 456.9,856.5 459.1,856.5 459.1,855.1 461.3,854.3 463.5,854.3 463.5,855.0 465.7,856.9 467.5,856.9 467.5,857.1 469.4,857.1 469.4,858.5 471.2,859.1 472.8,859.1 472.8,859.8 474.4,859.8 474.4,859.9 476.1,859.9 476.1,859.5 477.7,859.6 479.9,859.6 479.9,860.4 482.1,862.4 484.0,862.4 484.0,862.5 485.9,863.1 487.7,863.1 487.7,864.0 489.5,864.0 489.5,864.6 491.2,864.6 491.2,864.9 493.0,865.3 494.8,865.3 494.8,864.9 496.5,864.9 496.5,865.1 498.3,865.1 498.3,865.0 500.0,865.0 500.0,865.1 501.8,864.8 503.6,864.8 503.6,864.8 505.5,864.8 505.5,865.9 507.3,865.7 508.9,865.7 508.9,865.7 510.5,865.7 510.5,864.4 512.2,864.4 512.2,864.1 513.8,863.9 516.0,864.6 517.6,864.6 517.6,865.6 519.3,865.6 519.3,865.4 521.0,865.4 521.0,866.8 522.6,866.8 524.2,866.8 524.2,867.4 525.9,867.4 525.9,868.1 527.5,868.1 527.5,868.7 529.1,869.0 530.9,869.0 530.9,869.8 532.8,869.8 532.8,870.9 534.6,872.3 536.4,872.3 536.4,872.5 538.2,872.5 538.2,873.6 540.0,873.6 540.0,874.1 541.8,874.4 543.4,874.4 543.4,874.7 545.1,874.7 545.1,876.3 546.7,876.6 548.5,876.6 548.5,876.9 550.3,876.9 550.3,877.0 552.1,877.7 554.3,877.7 554.3,878.7 556.5,879.9 558.7,879.9 558.7,880.8 560.9,880.6 563.1,880.6 563.1,879.8 565.3,878.8 567.0,878.8 567.0,879.5 568.6,879.9 570.7,874.4 572.4,874.4 572.4,873.9 574.0,872.3 575.8,872.3 575.8,872.9 577.7,872.9 577.7,872.6 579.5,872.3 581.1,872.3 581.1,871.8 582.8,871.8 582.8,871.5 584.5,871.5 584.5,871.4 586.1,870.5 588.2,870.5 588.2,870.1 590.4,869.0 592.2,869.0 592.2,869.6 594.0,869.6 594.0,869.9 595.8,869.9 595.8,870.5 597.6,871.2 599.6,871.2 599.6,870.7 601.6,870.7 601.6,869.8 603.6,869.0 605.2,869.0 605.2,868.8 606.9,868.8 606.9,870.0 608.6,870.0 608.6,870.6 610.2,870.5 611.8,870.5 611.8,871.4 613.5,871.4 613.5,872.1 615.1,872.1 615.1,872.6 616.7,872.7 618.9,872.7 618.9,872.5 621.1,872.3 623.3,872.3 623.3,873.5 625.5,874.0 627.1,874.0 627.1,873.9 628.8,873.9 628.8,873.5 630.4,873.5 630.4,873.8 632.0,873.8 632.0,873.8 633.7,873.8 633.7,874.5 635.3,874.5 635.3,874.2 637.0,874.2 637.0,874.0 638.6,874.0 640.3,874.0 640.3,874.1 641.9,874.1 641.9,873.5 643.6,873.5 643.6,874.0 645.2,874.0 645.2,874.2 646.9,874.2 646.9,873.9 648.5,873.9 648.5,873.7 650.2,873.7 650.2,873.9 651.8,873.9 651.8,873.8 653.5,874.0" stroke="#eca52d"/>
</g>
<g clip-path="url(#c1)">
<circle cx="100.5" cy="666.3" r="4.5" fill="#1400ff"/>
<circle cx="150.8" cy="902.1" r="4.5" fill="#1400ff"/>
<circle cx="206.6" cy="952.0" r="4.5" fill="#1400ff"/>
<circle cx="262.5" cy="971.2" r="4.5" fill="#1400ff"/>
<circle cx="318.3" cy="987.1" r="4.5" fill="#1400ff"/>
<circle cx="374.2" cy="1009.5" r="4.5" fill="#1400ff"/>
<circle cx="430.1" cy="1011.3" r="4.5" fill="#1400ff"/>
<circle cx="485.9" cy="1013.5" r="4.5" fill="#1400ff"/>
<circle cx="541.8" cy="1015.7" r="4.5" fill="#1400ff"/>
<circle cx="597.6" cy="1018.5" r="4.5" fill="#1400ff"/>
<circle cx="653.5" cy="1016.3" r="4.5" fill="#1400ff"/>
<path d="M100.1 707.1L105.1 713.0L100.1 718.9L95.1 713.0Z" fill="#32891e"/>
<path d="M150.8 874.9L155.8 880.8L150.8 886.7L145.8 880.8Z" fill="#32891e"/>
<path d="M206.6 910.0L211.6 915.9L206.6 921.8L201.6 915.9Z" fill="#32891e"/>
<path d="M262.5 929.1L267.5 935.0L262.5 940.9L257.5 935.0Z" fill="#32891e"/>
<path d="M318.3 935.3L323.3 941.2L318.3 947.1L313.3 941.2Z" fill="#32891e"/>
<path d="M374.2 941.8L379.2 947.7L374.2 953.6L369.2 947.7Z" fill="#32891e"/>
<path d="M430.1 942.6L435.1 948.5L430.1 954.4L425.1 948.5Z" fill="#32891e"/>
<path d="M485.9 947.4L490.9 953.3L485.9 959.2L480.9 953.3Z" fill="#32891e"/>
<path d="M541.8 947.4L546.8 953.3L541.8 959.2L536.8 953.3Z" fill="#32891e"/>
<path d="M597.6 944.7L602.6 950.6L597.6 956.5L592.6 950.6Z" fill="#32891e"/>
<path d="M653.5 945.6L658.5 951.5L653.5 957.4L648.5 951.5Z" fill="#32891e"/>
<rect x="96.0" y="724.9" width="9" height="9" fill="#eca52d"/>
<rect x="146.3" y="645.4" width="9" height="9" fill="#eca52d"/>
<rect x="202.1" y="705.6" width="9" height="9" fill="#eca52d"/>
<rect x="258.0" y="782.0" width="9" height="9" fill="#eca52d"/>
<rect x="313.8" y="806.1" width="9" height="9" fill="#eca52d"/>
<rect x="369.7" y="829.5" width="9" height="9" fill="#eca52d"/>
<rect x="425.6" y="852.4" width="9" height="9" fill="#eca52d"/>
<rect x="481.4" y="858.6" width="9" height="9" fill="#eca52d"/>
<rect x="537.3" y="869.9" width="9" height="9" fill="#eca52d"/>
<rect x="593.1" y="866.7" width="9" height="9" fill="#eca52d"/>
<rect x="649.0" y="869.5" width="9" height="9" fill="#eca52d"/>
</g>
<rect x="83.1" y="628.3" width="582.3" height="458.3" fill="none" stroke="#2b2b2b" stroke-width="1.6"/>
<path d="M83.1 644.4H90.5M83.1 705.3H90.5M83.1 766.2H90.5M83.1 827.1H90.5M83.1 888.1H90.5M83.1 949.0H90.5M83.1 1009.9H90.5M83.1 1070.8H90.5M94.9 1086.6V1079.1M206.6 1086.6V1079.1M318.3 1086.6V1079.1M430.1 1086.6V1079.1M541.8 1086.6V1079.1M653.5 1086.6V1079.1" stroke="#333" stroke-width="1.4" fill="none"/>
<text x="76.7" y="653.8" font-size="28" fill="#2a3f5f" text-anchor="end">2</text>
<text x="76.7" y="714.7" font-size="28" fill="#2a3f5f" text-anchor="end">0</text>
<text x="76.7" y="775.6" font-size="28" fill="#2a3f5f" text-anchor="end">−2</text>
<text x="76.7" y="836.5" font-size="28" fill="#2a3f5f" text-anchor="end">−4</text>
<text x="76.7" y="897.5" font-size="28" fill="#2a3f5f" text-anchor="end">−6</text>
<text x="76.7" y="958.4" font-size="28" fill="#2a3f5f" text-anchor="end">−8</text>
<text x="76.7" y="1019.3" font-size="28" fill="#2a3f5f" text-anchor="end">−10</text>
<text x="76.7" y="1080.2" font-size="28" fill="#2a3f5f" text-anchor="end">−12</text>
<text x="651.6" y="683.3" font-size="35.2" font-weight="bold" fill="#2a3f5f" text-anchor="end">b)</text>
<path d="M206.6 1115.7V1571.4M318.3 1115.7V1571.4M430.1 1115.7V1571.4M541.8 1115.7V1571.4M653.5 1115.7V1571.4M83.9 1125.0H664.6M83.9 1187.3H664.6M83.9 1249.6H664.6M83.9 1311.9H664.6M83.9 1436.5H664.6M83.9 1498.8H664.6M83.9 1561.1H664.6" stroke="#ebf0f8" stroke-width="1.5" fill="none"/>
<path d="M94.9 1115.7V1571.4M83.9 1374.2H664.6" stroke="#ebf0f8" stroke-width="2.8" fill="none"/>
<g clip-path="url(#c2)" fill="none" stroke-width="2.2" stroke-linejoin="round" stroke-linecap="round">
<polyline points="94.9,1448.2 95.7,1437.3 97.2,1395.7 98.8,1384.7 100.1,1362.8 101.6,1343.1 102.7,1333.0 104.9,1322.0 107.1,1315.4 108.2,1302.3 109.3,1289.2 111.0,1284.8 112.6,1267.3 114.7,1245.4 116.9,1215.8 119.1,1212.5 121.3,1203.8 123.5,1200.5 124.6,1191.7 125.7,1195.0 127.9,1185.2 130.1,1196.1 132.3,1197.2 133.8,1201.6 135.6,1225.7 137.7,1226.8 139.3,1226.8 139.3,1225.9 141.0,1223.5 143.2,1218.0 144.8,1218.0 144.8,1216.7 146.5,1214.7 148.7,1208.2 150.8,1202.7 152.5,1202.7 152.5,1199.9 154.2,1196.1 155.8,1196.1 155.8,1194.1 157.4,1190.6 159.6,1187.4 161.8,1190.6 164.0,1184.1 166.2,1188.4 167.8,1188.4 167.8,1182.5 169.5,1177.5 171.7,1173.1 173.3,1173.1 173.3,1170.1 175.0,1166.6 177.2,1160.0 179.3,1166.6 181.5,1164.4 183.7,1164.4 183.7,1168.9 185.9,1172.0 188.1,1172.0 188.1,1171.6 190.3,1169.8 192.5,1169.8 192.5,1169.4 194.7,1168.7 196.3,1168.7 196.3,1167.1 198.0,1166.6 201.2,1163.3 203.0,1163.3 203.0,1164.2 204.8,1164.2 204.8,1166.4 206.6,1166.6 208.5,1166.6 208.5,1165.2 210.3,1165.2 210.3,1164.8 212.2,1164.4 213.8,1164.4 213.8,1164.4 215.5,1164.4 215.5,1162.7 217.2,1162.7 217.2,1161.4 218.8,1161.1 220.9,1161.1 220.9,1163.5 223.1,1166.6 225.3,1166.6 225.3,1167.3 227.5,1166.6 230.0,1168.3 232.2,1167.2 233.9,1159.6 236.6,1162.8 238.8,1162.8 238.8,1163.6 240.9,1165.0 243.1,1165.0 243.1,1165.4 245.3,1166.1 246.9,1166.1 246.9,1166.9 248.6,1167.2 250.2,1167.2 250.2,1166.1 251.9,1163.9 253.6,1163.9 253.6,1165.5 255.2,1167.2 256.9,1167.2 256.9,1168.1 258.5,1170.5 260.5,1170.5 260.5,1172.3 262.5,1173.8 264.3,1173.8 264.3,1171.3 266.1,1170.5 269.0,1165.0 270.9,1165.0 270.9,1166.5 272.7,1169.4 274.9,1169.4 274.9,1169.9 277.1,1171.6 279.3,1171.6 279.3,1171.4 281.5,1170.5 284.7,1166.1 285.8,1173.8 287.5,1173.8 287.5,1172.9 289.1,1172.7 290.8,1172.7 290.8,1171.4 292.4,1169.4 294.0,1169.4 294.0,1167.7 295.7,1167.2 297.9,1167.2 297.9,1166.5 300.1,1167.2 302.2,1167.2 302.2,1168.0 304.4,1170.5 306.6,1170.5 306.6,1169.8 308.8,1168.3 311.0,1168.3 311.0,1168.6 313.2,1167.7 314.8,1167.7 314.8,1167.0 316.4,1167.0 316.4,1166.8 318.0,1167.0 320.0,1167.0 320.0,1167.3 322.0,1169.4 323.6,1169.4 323.6,1169.8 325.2,1169.8 325.2,1169.3 326.9,1169.3 326.9,1169.1 328.5,1169.9 330.1,1169.9 330.1,1169.5 331.8,1169.5 331.8,1168.7 333.5,1168.7 333.5,1167.8 335.1,1167.2 336.8,1167.2 336.8,1165.5 338.4,1165.5 338.4,1165.2 340.1,1165.2 340.1,1164.0 341.7,1162.8 343.3,1162.8 343.3,1161.6 344.9,1161.6 344.9,1160.0 346.6,1160.0 346.6,1160.3 348.2,1158.5 350.4,1158.5 350.4,1158.6 352.6,1157.4 354.8,1157.4 354.8,1158.3 357.0,1158.5 359.2,1158.5 359.2,1158.3 361.4,1156.3 363.6,1156.3 363.6,1157.0 365.8,1157.4 368.0,1157.4 368.0,1159.8 370.1,1162.8 372.2,1162.8 372.2,1162.7 374.2,1163.9 377.0,1162.8 378.6,1162.8 378.6,1163.9 380.3,1164.6 382.1,1164.6 382.1,1164.8 384.0,1164.8 384.0,1164.8 385.8,1165.0 387.4,1165.0 387.4,1165.8 389.1,1165.8 389.1,1165.4 390.7,1165.4 390.7,1164.0 392.3,1164.6 394.1,1159.6 395.9,1159.6 395.9,1160.1 397.6,1160.1 397.6,1158.4 399.4,1158.4 399.4,1159.3 401.1,1158.9 402.9,1158.9 402.9,1158.4 404.8,1158.4 404.8,1159.0 406.6,1158.5 408.1,1162.8 410.1,1162.8 410.1,1163.5 412.2,1163.5 412.2,1162.6 414.2,1162.4 415.9,1162.4 415.9,1162.7 417.5,1162.7 417.5,1161.2 419.1,1161.2 419.1,1162.2 420.8,1161.7 423.0,1161.7 423.0,1161.6 425.2,1162.8 426.8,1162.8 426.8,1163.3 428.4,1163.3 428.4,1163.7 430.1,1164.6 432.1,1164.6 432.1,1163.2 434.1,1163.2 434.1,1163.8 436.1,1162.8 437.8,1162.8 437.8,1161.6 439.4,1161.6 439.4,1161.5 441.1,1161.5 441.1,1160.8 442.7,1161.1 444.4,1161.1 444.4,1161.0 446.0,1161.0 446.0,1160.0 447.6,1160.0 447.6,1159.2 449.3,1159.6 451.4,1162.8 453.0,1162.8 453.0,1161.5 454.7,1161.5 454.7,1161.4 456.4,1161.4 456.4,1161.5 458.0,1161.1 459.8,1161.1 459.8,1160.1 461.7,1160.1 461.7,1160.0 463.5,1160.7 465.1,1160.7 465.1,1159.9 466.8,1158.5 469.0,1158.5 469.0,1158.0 471.2,1157.4 473.4,1157.4 473.4,1156.2 475.5,1156.3 477.7,1156.3 477.7,1155.7 479.9,1155.8 482.1,1155.8 482.1,1155.4 484.3,1156.3 486.5,1156.3 486.5,1156.4 488.7,1157.4 490.4,1157.4 490.4,1155.5 492.0,1154.1 494.1,1148.6 496.3,1150.8 498.5,1158.5 500.1,1158.5 500.1,1160.1 501.8,1162.8 504.0,1162.8 504.0,1163.4 506.2,1165.0 508.4,1165.0 508.4,1165.9 510.6,1167.7 512.8,1167.7 512.8,1168.2 514.9,1169.4 516.7,1169.4 516.7,1170.0 518.6,1170.0 518.6,1171.2 520.4,1171.0 522.6,1171.0 522.6,1171.7 524.8,1171.9 527.0,1171.9 527.0,1170.8 529.1,1169.9 531.3,1169.9 531.3,1167.9 533.5,1167.7 535.7,1167.7 535.7,1164.6 537.9,1162.7 539.8,1162.7 539.8,1160.2 541.8,1157.2 544.5,1155.0 545.6,1150.7 546.7,1159.4 548.9,1159.4 548.9,1159.0 551.0,1159.0 552.8,1159.0 552.8,1159.4 554.5,1159.4 554.5,1159.2 556.3,1159.2 556.3,1157.9 558.0,1157.9 558.0,1157.7 559.8,1157.7 561.6,1157.7 561.6,1157.0 563.3,1157.0 563.3,1157.4 565.1,1157.4 565.1,1156.0 566.8,1156.0 566.8,1156.0 568.6,1156.1 570.3,1156.1 570.3,1156.6 572.1,1156.6 572.1,1155.4 573.8,1155.4 573.8,1156.3 575.6,1156.3 575.6,1155.0 577.3,1155.0 579.1,1155.0 579.1,1155.7 580.8,1155.7 580.8,1155.2 582.6,1155.2 582.6,1154.7 584.3,1154.7 584.3,1155.7 586.1,1155.7 587.7,1155.7 587.7,1155.6 589.4,1155.6 589.4,1157.2 591.0,1157.2 591.0,1157.2 592.6,1157.2 594.3,1157.2 594.3,1157.9 596.0,1157.9 596.0,1159.2 597.6,1159.0 599.6,1159.0 599.6,1159.1 601.6,1159.1 601.6,1159.8 603.6,1159.0 605.3,1159.0 605.3,1159.5 607.1,1159.5 607.1,1158.6 608.8,1158.6 608.8,1158.9 610.6,1158.9 610.6,1159.9 612.3,1159.4 614.1,1159.4 614.1,1158.8 615.8,1158.8 615.8,1160.5 617.6,1160.5 617.6,1158.9 619.3,1158.9 619.3,1160.2 621.1,1159.9 622.9,1159.9 622.9,1160.0 624.6,1160.0 624.6,1159.5 626.4,1159.5 626.4,1159.8 628.1,1159.8 628.1,1159.6 629.9,1159.4 631.6,1159.4 631.6,1159.1 633.4,1159.1 633.4,1158.8 635.1,1158.8 635.1,1158.3 636.9,1158.3 636.9,1159.4 638.6,1159.0 640.4,1159.0 640.4,1159.4 642.1,1159.4 642.1,1158.3 643.9,1158.3 643.9,1158.9 645.6,1158.9 645.6,1157.8 647.4,1157.7 649.4,1157.7 649.4,1156.7 651.5,1156.7 651.5,1157.2 653.5,1156.1" stroke="#1400ff"/>
<polyline points="94.9,1430.7 96.6,1413.2 97.9,1393.5 99.4,1380.4 101.0,1365.0 102.7,1357.4 104.9,1351.9 106.6,1347.5 108.2,1343.9 109.3,1328.6 111.5,1324.2 113.7,1306.7 115.8,1289.2 118.0,1267.3 120.2,1262.9 122.4,1252.0 124.1,1252.0 124.1,1242.7 125.7,1234.4 127.9,1219.1 130.1,1201.6 132.3,1192.8 134.5,1184.1 136.6,1173.1 138.8,1170.9 139.9,1163.3 141.7,1175.3 143.2,1166.6 145.4,1168.7 147.2,1168.7 147.2,1170.3 149.0,1170.3 149.0,1171.6 150.8,1172.7 152.6,1179.7 154.5,1179.7 154.5,1179.1 156.4,1178.6 159.6,1176.4 161.8,1176.4 161.8,1175.4 164.0,1175.3 166.2,1175.3 166.2,1173.6 168.4,1170.9 171.0,1165.5 172.3,1172.7 173.9,1172.7 173.9,1172.2 175.6,1172.2 175.6,1170.8 177.2,1169.8 179.0,1169.8 179.0,1168.7 180.8,1168.7 180.8,1167.2 182.6,1166.6 184.8,1166.6 184.8,1164.2 187.0,1163.3 188.7,1163.3 188.7,1162.0 190.3,1161.1 192.5,1161.1 192.5,1161.8 194.7,1162.2 196.9,1162.2 196.9,1161.0 199.1,1161.1 201.2,1161.1 201.2,1160.5 203.4,1158.9 205.0,1158.9 205.0,1161.0 206.6,1163.9 208.5,1163.9 208.5,1163.3 210.3,1163.3 210.3,1162.8 212.2,1163.3 214.0,1163.3 214.0,1163.7 215.9,1163.7 215.9,1162.9 217.7,1162.2 219.8,1162.2 219.8,1164.5 222.0,1165.5 223.8,1165.5 223.8,1166.6 225.7,1166.6 225.7,1166.6 227.5,1168.3 230.0,1169.9 231.7,1169.9 231.7,1170.1 233.3,1170.1 233.3,1170.7 234.9,1170.7 234.9,1170.6 236.6,1171.6 238.2,1171.6 238.2,1171.5 239.8,1171.5 239.8,1169.7 241.5,1169.7 241.5,1168.6 243.1,1168.3 244.8,1168.3 244.8,1168.3 246.4,1168.3 246.4,1166.6 248.0,1166.6 248.0,1167.3 249.7,1166.1 251.9,1166.1 251.9,1164.9 254.1,1163.9 255.8,1155.2 257.7,1155.2 257.7,1155.3 259.6,1155.2 262.5,1159.6 264.8,1159.6 264.8,1159.9 267.2,1160.7 269.4,1160.7 269.4,1161.7 271.6,1162.8 273.8,1162.8 273.8,1163.9 276.0,1166.1 277.6,1166.1 277.6,1166.2 279.3,1166.2 279.3,1168.3 281.0,1168.3 281.0,1168.2 282.6,1169.4 284.4,1169.4 284.4,1170.0 286.2,1170.0 286.2,1169.3 288.0,1169.9 290.2,1169.9 290.2,1169.3 292.4,1167.2 294.2,1167.2 294.2,1165.7 296.1,1165.7 296.1,1163.3 297.9,1160.7 300.1,1160.7 300.1,1158.9 302.3,1156.3 304.1,1156.3 304.1,1155.3 305.9,1155.3 305.9,1154.5 307.7,1153.0 308.8,1162.8 311.0,1162.8 311.0,1163.1 313.2,1164.6 314.9,1164.6 314.9,1165.1 316.6,1165.1 316.6,1166.1 318.3,1166.1 320.3,1166.1 320.3,1165.3 322.2,1165.3 322.2,1166.0 324.2,1165.0 325.8,1165.0 325.8,1165.9 327.4,1165.9 327.4,1165.4 329.1,1165.4 329.1,1165.6 330.7,1166.1 332.4,1166.1 332.4,1165.5 334.0,1165.5 334.0,1164.8 335.6,1164.8 335.6,1165.2 337.3,1163.9 338.9,1163.9 338.9,1162.6 340.6,1162.6 340.6,1161.0 342.2,1161.0 342.2,1160.0 343.9,1159.6 345.8,1159.6 345.8,1158.8 347.7,1158.8 347.7,1158.2 349.6,1158.2 349.6,1156.3 351.5,1155.2 353.4,1155.2 353.4,1155.7 355.4,1155.7 355.4,1156.4 357.3,1156.4 357.3,1157.2 359.2,1157.4 360.9,1157.4 360.9,1157.0 362.5,1157.0 362.5,1157.6 364.1,1157.6 364.1,1157.5 365.8,1157.4 367.5,1157.4 367.5,1157.7 369.2,1157.7 369.2,1157.1 370.8,1157.1 370.8,1157.2 372.5,1157.2 372.5,1157.6 374.2,1158.0 377.0,1157.4 378.6,1157.4 378.6,1158.1 380.3,1158.1 380.3,1157.2 382.0,1157.2 382.0,1157.6 383.6,1157.4 385.2,1157.4 385.2,1156.8 386.9,1156.8 386.9,1156.2 388.5,1156.2 388.5,1155.9 390.1,1156.3 391.8,1156.3 391.8,1156.5 393.4,1156.5 393.4,1156.2 395.1,1156.2 395.1,1155.3 396.7,1155.2 398.4,1155.2 398.4,1155.5 400.0,1155.5 400.0,1155.5 401.6,1155.5 401.6,1155.8 403.3,1155.2 404.9,1155.2 404.9,1156.1 406.6,1156.1 406.6,1155.4 408.2,1155.4 408.2,1156.4 409.8,1155.8 411.4,1155.8 411.4,1155.6 413.1,1155.6 413.1,1154.1 414.7,1153.0 416.7,1153.0 416.7,1154.3 418.8,1154.3 418.8,1154.5 420.8,1155.2 422.7,1155.2 422.7,1155.9 424.5,1155.9 424.5,1156.6 426.4,1156.6 426.4,1158.4 428.2,1158.4 428.2,1158.2 430.1,1159.6 432.1,1159.6 432.1,1159.3 434.1,1159.3 434.1,1160.8 436.1,1160.7 437.9,1160.7 437.9,1160.9 439.6,1160.9 439.6,1160.2 441.4,1160.2 441.4,1160.6 443.1,1160.6 443.1,1159.1 444.9,1159.6 446.6,1159.6 446.6,1159.1 448.4,1159.1 448.4,1159.0 450.1,1159.0 450.1,1159.1 451.9,1159.1 451.9,1158.5 453.6,1158.9 455.2,1158.9 455.2,1158.1 456.9,1158.1 456.9,1158.4 458.6,1158.4 458.6,1159.2 460.2,1158.5 461.9,1158.5 461.9,1159.0 463.5,1159.0 463.5,1158.3 465.1,1158.3 465.1,1157.6 466.8,1157.4 468.6,1157.4 468.6,1155.9 470.4,1155.9 470.4,1155.9 472.2,1154.1 474.0,1154.1 474.0,1155.0 475.9,1155.0 475.9,1156.2 477.7,1156.7 479.3,1156.7 479.3,1156.2 481.0,1156.2 481.0,1156.8 482.6,1156.8 482.6,1158.0 484.3,1158.0 484.3,1158.2 485.9,1158.0 487.6,1158.0 487.6,1158.2 489.2,1158.2 489.2,1157.3 490.9,1156.7 492.6,1156.7 492.6,1156.6 494.4,1156.6 494.4,1156.8 496.1,1156.8 496.1,1157.3 497.9,1157.3 497.9,1156.4 499.6,1156.7 501.4,1156.7 501.4,1156.9 503.1,1156.9 503.1,1156.6 504.9,1156.6 504.9,1157.5 506.6,1157.5 506.6,1156.5 508.4,1157.4 510.3,1157.4 510.3,1157.5 512.2,1157.5 512.2,1157.8 514.1,1157.8 514.1,1156.2 516.0,1156.8 517.6,1156.8 517.6,1157.0 519.3,1157.0 519.3,1157.2 521.0,1157.2 521.0,1157.7 522.6,1157.2 524.8,1157.2 524.8,1156.8 527.0,1156.1 529.6,1148.5 531.5,1148.5 531.5,1150.8 533.5,1153.9 535.7,1153.9 535.7,1156.3 537.9,1159.0 539.8,1159.0 539.8,1161.9 541.8,1163.4 543.4,1163.4 543.4,1164.5 545.1,1164.5 545.1,1163.8 546.7,1164.9 548.9,1164.9 548.9,1165.1 551.0,1166.6 553.2,1166.6 553.2,1166.8 555.4,1168.2 557.6,1168.2 557.6,1167.2 559.8,1167.7 561.6,1167.7 561.6,1166.3 563.5,1166.3 563.5,1164.5 565.3,1163.8 567.1,1163.8 567.1,1162.9 568.9,1162.9 568.9,1161.1 570.7,1159.4 572.9,1159.4 572.9,1156.6 575.1,1155.0 576.8,1155.0 576.8,1152.9 578.4,1150.7 580.2,1146.3 581.7,1153.9 583.9,1153.9 583.9,1154.0 586.1,1154.6 587.7,1154.6 587.7,1154.8 589.4,1154.8 589.4,1154.6 591.0,1154.6 591.0,1154.7 592.6,1155.5 594.3,1155.5 594.3,1155.1 596.0,1155.1 596.0,1155.4 597.6,1155.7 599.6,1155.7 599.6,1155.8 601.6,1155.8 601.6,1155.3 603.6,1155.0 605.2,1155.0 605.2,1153.7 606.9,1153.7 606.9,1154.2 608.6,1154.2 608.6,1153.9 610.2,1152.8 612.4,1152.8 612.4,1154.6 614.5,1155.5 616.1,1155.5 616.1,1156.9 617.8,1156.9 617.8,1156.7 619.5,1156.7 619.5,1158.4 621.1,1159.4 622.9,1159.4 622.9,1158.9 624.6,1158.9 624.6,1160.3 626.4,1160.3 626.4,1159.5 628.1,1159.5 628.1,1160.6 629.9,1160.5 631.6,1160.5 631.6,1160.3 633.4,1160.3 633.4,1161.3 635.1,1161.3 635.1,1160.9 636.9,1160.9 636.9,1160.6 638.6,1161.6 640.4,1161.6 640.4,1161.9 642.1,1161.9 642.1,1162.2 643.9,1162.2 643.9,1163.6 645.6,1163.6 645.6,1163.0 647.4,1163.8 649.4,1163.8 649.4,1164.5 651.5,1164.5 651.5,1165.3 653.5,1166.0" stroke="#32891e"/>
<polyline points="94.9,1515.7 96.1,1505.2 97.9,1497.5 99.4,1490.9 101.6,1481.1 103.8,1476.7 106.0,1467.9 108.2,1459.2 109.3,1450.4 111.5,1446.0 113.7,1439.5 115.8,1432.9 118.0,1424.2 120.2,1415.4 122.4,1409.9 124.6,1405.5 126.8,1407.7 129.0,1400.1 129.4,1386.9 131.6,1383.6 133.8,1380.4 134.7,1362.8 135.6,1341.0 136.6,1333.0 138.8,1329.7 141.0,1335.2 143.2,1329.7 145.1,1329.7 145.1,1330.9 147.0,1330.9 147.0,1329.5 148.9,1329.5 148.9,1329.6 150.8,1330.8 153.1,1333.0 154.8,1333.0 154.8,1335.1 156.4,1335.2 159.6,1329.7 161.2,1329.7 161.2,1328.0 162.9,1327.5 164.6,1327.5 164.6,1326.7 166.2,1327.5 167.8,1327.5 167.8,1330.6 169.5,1333.0 171.2,1333.0 171.2,1335.9 172.8,1339.5 174.4,1339.5 174.4,1336.5 176.1,1331.9 177.7,1331.9 177.7,1334.1 179.3,1337.3 180.9,1337.3 180.9,1336.1 182.6,1333.0 184.2,1333.0 184.2,1337.0 185.9,1341.7 188.1,1341.7 188.1,1340.8 190.3,1339.5 191.9,1339.5 191.9,1338.2 193.6,1335.2 195.2,1335.2 195.2,1335.0 196.9,1334.1 200.1,1329.7 201.8,1329.7 201.8,1325.0 203.4,1318.7 205.0,1318.7 205.0,1314.2 206.6,1308.9 207.8,1293.6 209.6,1280.4 212.2,1267.3 214.4,1245.4 216.6,1243.2 218.8,1232.2 221.0,1226.8 224.2,1227.9 226.4,1233.3 228.6,1225.7 230.0,1232.9 232.2,1217.6 234.4,1213.2 236.6,1219.8 238.8,1208.8 240.5,1202.3 242.7,1206.6 245.3,1201.2 246.9,1201.2 246.9,1200.8 248.6,1202.3 250.2,1202.3 250.2,1204.1 251.9,1204.4 254.5,1205.5 256.3,1194.6 258.5,1207.7 260.5,1207.7 260.5,1207.6 262.5,1207.1 264.3,1207.1 264.3,1207.0 266.1,1207.7 267.8,1207.7 267.8,1208.7 269.4,1211.0 271.6,1204.4 273.8,1204.4 273.8,1206.7 276.0,1207.7 277.6,1207.7 277.6,1208.4 279.3,1208.8 281.5,1214.3 283.6,1207.7 285.8,1219.8 288.0,1230.7 289.6,1230.7 289.6,1229.4 291.3,1226.3 293.5,1219.8 294.6,1231.8 296.2,1231.8 296.2,1234.0 297.9,1235.1 300.1,1241.7 301.8,1241.7 301.8,1246.4 303.4,1249.3 305.0,1249.3 305.0,1252.7 306.6,1255.9 308.2,1255.9 308.2,1259.0 309.9,1261.4 311.5,1261.4 311.5,1258.9 313.2,1255.9 314.9,1255.9 314.9,1258.2 316.5,1261.4 318.3,1257.0 319.8,1247.1 321.5,1247.1 321.5,1247.5 323.1,1246.0 325.2,1237.3 327.4,1230.7 329.6,1235.1 331.8,1224.2 334.0,1215.4 336.2,1208.8 337.7,1219.8 340.6,1224.2 342.8,1226.3 344.5,1226.3 344.5,1223.8 346.1,1222.0 348.2,1204.4 350.4,1219.8 353.1,1222.0 354.8,1237.3 356.6,1229.6 358.5,1229.6 358.5,1231.0 360.3,1231.2 362.5,1231.2 362.5,1231.7 364.7,1230.3 367.9,1228.5 370.1,1224.2 372.2,1224.2 372.2,1221.8 374.2,1218.7 375.2,1212.1 377.0,1219.8 379.2,1216.5 380.9,1216.5 380.9,1214.7 382.5,1214.3 383.6,1209.9 385.3,1215.4 387.9,1223.1 390.1,1216.5 392.3,1213.2 393.4,1193.5 395.6,1193.5 395.6,1194.4 397.8,1193.9 398.9,1204.4 401.1,1204.4 401.1,1205.6 403.3,1206.2 405.5,1206.2 405.5,1205.2 407.7,1205.5 409.4,1199.0 410.9,1204.4 413.1,1193.5 415.3,1188.0 417.5,1180.4 419.0,1195.7 421.9,1201.2 423.4,1222.0 426.3,1228.5 428.2,1228.5 428.2,1230.9 430.1,1235.1 431.7,1235.1 431.7,1234.4 433.4,1234.4 433.4,1232.7 435.0,1232.9 436.6,1232.9 436.6,1230.5 438.3,1226.3 440.5,1222.0 442.7,1208.8 444.4,1204.4 445.3,1213.2 447.1,1203.4 448.8,1203.4 448.8,1201.8 450.4,1200.1 452.5,1193.5 454.7,1185.8 456.9,1171.6 459.1,1165.0 461.3,1163.9 463.1,1154.1 464.1,1150.8 465.0,1149.7 465.7,1182.6 467.4,1182.6 467.4,1188.1 469.0,1193.5 471.1,1193.5 471.1,1195.5 473.3,1197.9 475.5,1197.9 475.5,1200.4 477.7,1202.3 479.9,1200.1 481.9,1200.1 481.9,1201.3 483.9,1201.3 483.9,1200.4 485.9,1201.2 487.9,1201.2 487.9,1198.2 489.8,1195.7 493.0,1186.9 494.6,1186.9 494.6,1183.8 496.3,1180.4 498.0,1180.4 498.0,1178.3 499.6,1177.1 501.8,1162.8 504.0,1171.6 506.2,1171.6 506.2,1173.4 508.4,1174.9 510.6,1185.8 512.8,1185.8 512.8,1186.7 514.9,1187.4 517.1,1187.4 517.1,1187.6 519.3,1188.0 522.1,1191.8 523.7,1191.8 523.7,1191.9 525.4,1191.9 525.4,1191.5 527.0,1191.2 528.6,1191.2 528.6,1188.2 530.2,1186.8 531.9,1186.8 531.9,1185.0 533.5,1181.3 535.1,1181.3 535.1,1177.7 536.8,1174.7 537.9,1169.3 539.8,1169.3 539.8,1170.8 541.8,1172.6 544.5,1169.3 546.7,1164.9 547.7,1172.6 549.5,1172.6 549.5,1172.2 551.4,1172.2 551.4,1173.1 553.2,1172.1 555.0,1172.1 555.0,1172.4 556.9,1172.4 556.9,1171.0 558.7,1170.4 560.5,1170.4 560.5,1165.3 562.4,1160.5 565.3,1166.0 567.5,1166.0 567.5,1168.5 569.6,1172.6 571.4,1172.6 571.4,1174.8 573.3,1174.8 573.3,1174.8 575.1,1176.9 576.9,1176.9 576.9,1177.2 578.8,1177.2 578.8,1176.9 580.6,1177.4 582.4,1177.4 582.4,1177.6 584.3,1177.6 584.3,1178.2 586.1,1179.1 588.2,1179.1 588.2,1177.6 590.4,1177.4 592.2,1177.4 592.2,1175.3 594.0,1175.3 594.0,1175.1 595.8,1175.1 595.8,1174.4 597.6,1172.6 599.3,1172.6 599.3,1172.2 600.9,1172.2 600.9,1170.5 602.5,1170.4 604.1,1170.4 604.1,1167.5 605.8,1163.8 608.0,1159.4 610.2,1166.0 612.3,1169.3 614.0,1169.3 614.0,1168.1 615.6,1168.6 617.2,1168.6 617.2,1169.3 618.9,1170.4 621.1,1170.4 621.1,1171.6 623.3,1171.5 625.5,1162.7 627.1,1162.7 627.1,1167.9 628.8,1171.5 631.0,1171.5 631.0,1173.9 633.1,1176.5 634.8,1176.5 634.8,1177.6 636.4,1177.6 636.4,1177.2 638.1,1177.2 638.1,1177.7 639.7,1178.0 641.4,1178.0 641.4,1178.0 643.0,1178.0 643.0,1178.7 644.6,1178.7 644.6,1178.0 646.3,1177.4 648.1,1177.4 648.1,1176.4 649.9,1176.4 649.9,1176.0 651.7,1176.0 651.7,1174.8 653.5,1173.6" stroke="#eca52d"/>
</g>
<g clip-path="url(#c2)">
<circle cx="94.9" cy="1448.2" r="4.5" fill="#1400ff"/>
<circle cx="150.8" cy="1202.7" r="4.5" fill="#1400ff"/>
<circle cx="206.6" cy="1166.6" r="4.5" fill="#1400ff"/>
<circle cx="262.5" cy="1173.8" r="4.5" fill="#1400ff"/>
<circle cx="318.3" cy="1158.5" r="4.5" fill="#1400ff"/>
<circle cx="374.2" cy="1163.9" r="4.5" fill="#1400ff"/>
<circle cx="430.1" cy="1164.6" r="4.5" fill="#1400ff"/>
<circle cx="485.9" cy="1157.0" r="4.5" fill="#1400ff"/>
<circle cx="541.8" cy="1157.2" r="4.5" fill="#1400ff"/>
<circle cx="597.6" cy="1159.0" r="4.5" fill="#1400ff"/>
<circle cx="653.5" cy="1156.1" r="4.5" fill="#1400ff"/>
<path d="M94.9 1424.8L99.9 1430.7L94.9 1436.6L89.9 1430.7Z" fill="#32891e"/>
<path d="M150.8 1166.8L155.8 1172.7L150.8 1178.6L145.8 1172.7Z" fill="#32891e"/>
<path d="M206.6 1158.0L211.6 1163.9L206.6 1169.8L201.6 1163.9Z" fill="#32891e"/>
<path d="M262.5 1153.7L267.5 1159.6L262.5 1165.5L257.5 1159.6Z" fill="#32891e"/>
<path d="M318.3 1160.2L323.3 1166.1L318.3 1172.0L313.3 1166.1Z" fill="#32891e"/>
<path d="M374.2 1152.1L379.2 1158.0L374.2 1163.9L369.2 1158.0Z" fill="#32891e"/>
<path d="M430.1 1153.7L435.1 1159.6L430.1 1165.5L425.1 1159.6Z" fill="#32891e"/>
<path d="M485.9 1152.1L490.9 1158.0L485.9 1163.9L480.9 1158.0Z" fill="#32891e"/>
<path d="M541.8 1157.5L546.8 1163.4L541.8 1169.3L536.8 1163.4Z" fill="#32891e"/>
<path d="M597.6 1149.8L602.6 1155.7L597.6 1161.6L592.6 1155.7Z" fill="#32891e"/>
<path d="M653.5 1160.1L658.5 1166.0L653.5 1171.9L648.5 1166.0Z" fill="#32891e"/>
<rect x="90.4" y="1511.2" width="9" height="9" fill="#eca52d"/>
<rect x="146.3" y="1326.3" width="9" height="9" fill="#eca52d"/>
<rect x="202.1" y="1304.4" width="9" height="9" fill="#eca52d"/>
<rect x="258.0" y="1202.6" width="9" height="9" fill="#eca52d"/>
<rect x="313.8" y="1252.5" width="9" height="9" fill="#eca52d"/>
<rect x="369.7" y="1214.2" width="9" height="9" fill="#eca52d"/>
<rect x="425.6" y="1230.6" width="9" height="9" fill="#eca52d"/>
<rect x="481.4" y="1196.7" width="9" height="9" fill="#eca52d"/>
<rect x="537.3" y="1168.1" width="9" height="9" fill="#eca52d"/>
<rect x="593.1" y="1168.1" width="9" height="9" fill="#eca52d"/>
<rect x="649.0" y="1169.1" width="9" height="9" fill="#eca52d"/>
</g>
<rect x="83.1" y="1114.2" width="582.3" height="458.0" fill="none" stroke="#2b2b2b" stroke-width="1.6"/>
<path d="M83.1 1125.0H90.5M83.1 1187.3H90.5M83.1 1249.6H90.5M83.1 1311.9H90.5M83.1 1374.2H90.5M83.1 1436.5H90.5M83.1 1498.8H90.5M83.1 1561.1H90.5M94.9 1572.2V1564.7M206.6 1572.2V1564.7M318.3 1572.2V1564.7M430.1 1572.2V1564.7M541.8 1572.2V1564.7M653.5 1572.2V1564.7" stroke="#333" stroke-width="1.4" fill="none"/>
<text x="76.7" y="1134.4" font-size="28" fill="#2a3f5f" text-anchor="end">12</text>
<text x="76.7" y="1196.7" font-size="28" fill="#2a3f5f" text-anchor="end">9</text>
<text x="76.7" y="1259.0" font-size="28" fill="#2a3f5f" text-anchor="end">6</text>
<text x="76.7" y="1321.3" font-size="28" fill="#2a3f5f" text-anchor="end">3</text>
<text x="76.7" y="1383.6" font-size="28" fill="#2a3f5f" text-anchor="end">0</text>
<text x="76.7" y="1445.9" font-size="28" fill="#2a3f5f" text-anchor="end">−3</text>
<text x="76.7" y="1508.2" font-size="28" fill="#2a3f5f" text-anchor="end">−6</text>
<text x="76.7" y="1570.5" font-size="28" fill="#2a3f5f" text-anchor="end">−9</text>
<text x="651.6" y="1244.6" font-size="35.2" font-weight="bold" fill="#2a3f5f" text-anchor="end">c)</text>
<text x="94.9" y="1606.3" font-size="28" fill="#2a3f5f" text-anchor="middle">0</text>
<text x="206.6" y="1606.3" font-size="28" fill="#2a3f5f" text-anchor="middle">100k</text>
<text x="318.3" y="1606.3" font-size="28" fill="#2a3f5f" text-anchor="middle">200k</text>
<text x="430.1" y="1606.3" font-size="28" fill="#2a3f5f" text-anchor="middle">300k</text>
<text x="541.8" y="1606.3" font-size="28" fill="#2a3f5f" text-anchor="middle">400k</text>
<text x="653.5" y="1606.3" font-size="28" fill="#2a3f5f" text-anchor="middle">500k</text>
<text x="374.4" y="1647.6" font-size="33" font-weight="bold" fill="#2a3f5f" text-anchor="middle">Iterations</text>
<text transform="translate(32.1 372.0) rotate(-90)" x="0" y="0" font-size="33" font-weight="bold" fill="#2a3f5f" text-anchor="middle">Critic loss</text>
<text transform="translate(25.8 857.7) rotate(-90)" x="0" y="0" font-size="33" font-weight="bold" fill="#2a3f5f" text-anchor="middle">Actor loss</text>
<text transform="translate(25.7 1342.7) rotate(-90)" x="0" y="0" font-size="33" font-weight="bold" fill="#2a3f5f" text-anchor="middle">Episodic return</text>
<rect x="136.5" y="2.5" width="479.7" height="124.9" fill="#fff" stroke="#111" stroke-width="1.25"/>
<path d="M144.2 28.0H185.8" stroke="#1400ff" stroke-width="2"/>
<circle cx="164.8" cy="28.0" r="4.5" fill="#1400ff"/>
<text x="193" y="38.0" font-size="24.85" fill="#2a3f5f">Base model (Model 1)</text>
<path d="M144.2 64.4H185.8" stroke="#32891e" stroke-width="2"/>
<path d="M164.8 58.5L169.8 64.4L164.8 70.3L159.8 64.4Z" fill="#32891e"/>
<text x="193" y="74.3" font-size="24.85" fill="#2a3f5f">HER model (Model 2)</text>
<path d="M144.2 100.8H185.8" stroke="#eca52d" stroke-width="2"/>
<rect x="160.3" y="96.3" width="9" height="9" fill="#eca52d"/>
<text x="193" y="110.8" font-size="24.85" fill="#2a3f5f">Random initialization model (Model 6)</text>
</svg></body></html>
